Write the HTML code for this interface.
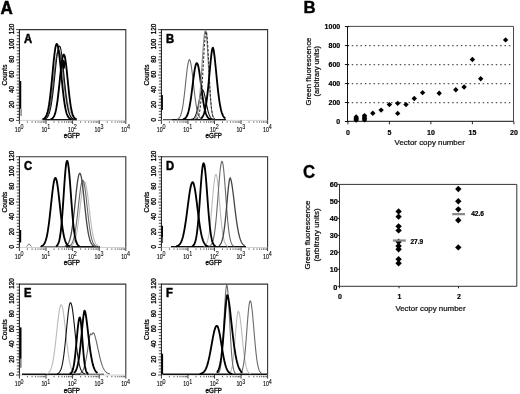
<!DOCTYPE html>
<html><head><meta charset="utf-8"><title>Figure</title>
<style>html,body{margin:0;padding:0;background:#fff;width:520px;height:394px;overflow:hidden}svg{display:block;filter:blur(0.35px)}</style>
</head><body>
<svg width="520" height="394" viewBox="0 0 520 394" font-family='"Liberation Sans", sans-serif'>
<rect width="520" height="394" fill="#fff"/>
<text transform="translate(0.4,13.7) scale(1,1.07)" font-size="17" font-weight="bold" stroke="#000" stroke-width="0.5">A</text>
<text transform="translate(303.5,12.9) scale(1.03,1.02)" font-size="16.3" font-weight="bold" stroke="#000" stroke-width="0.4">B</text>
<text transform="translate(302.9,177.9) scale(0.97,1.07)" font-size="17.3" font-weight="bold" stroke="#000" stroke-width="0.3">C</text>
<path d="M19.4,29.6 H125.8 V120.4" fill="none" stroke="#333" stroke-width="1.1"/>
<path d="M19.4,29.1 V120.4" fill="none" stroke="#111" stroke-width="1"/>
<path d="M16.00,120.40 H19.4" stroke="#222" stroke-width="0.8"/>
<path d="M16.80,117.37 H19.4" stroke="#222" stroke-width="0.8"/>
<path d="M16.80,114.35 H19.4" stroke="#222" stroke-width="0.8"/>
<path d="M16.80,111.32 H19.4" stroke="#222" stroke-width="0.8"/>
<path d="M16.80,108.29 H19.4" stroke="#222" stroke-width="0.8"/>
<path d="M16.00,105.27 H19.4" stroke="#222" stroke-width="0.8"/>
<path d="M16.80,102.24 H19.4" stroke="#222" stroke-width="0.8"/>
<path d="M16.80,99.21 H19.4" stroke="#222" stroke-width="0.8"/>
<path d="M16.80,96.19 H19.4" stroke="#222" stroke-width="0.8"/>
<path d="M16.80,93.16 H19.4" stroke="#222" stroke-width="0.8"/>
<path d="M16.00,90.13 H19.4" stroke="#222" stroke-width="0.8"/>
<path d="M16.80,87.11 H19.4" stroke="#222" stroke-width="0.8"/>
<path d="M16.80,84.08 H19.4" stroke="#222" stroke-width="0.8"/>
<path d="M16.80,81.05 H19.4" stroke="#222" stroke-width="0.8"/>
<path d="M16.80,78.03 H19.4" stroke="#222" stroke-width="0.8"/>
<path d="M16.00,75.00 H19.4" stroke="#222" stroke-width="0.8"/>
<path d="M16.80,71.97 H19.4" stroke="#222" stroke-width="0.8"/>
<path d="M16.80,68.95 H19.4" stroke="#222" stroke-width="0.8"/>
<path d="M16.80,65.92 H19.4" stroke="#222" stroke-width="0.8"/>
<path d="M16.80,62.89 H19.4" stroke="#222" stroke-width="0.8"/>
<path d="M16.00,59.87 H19.4" stroke="#222" stroke-width="0.8"/>
<path d="M16.80,56.84 H19.4" stroke="#222" stroke-width="0.8"/>
<path d="M16.80,53.81 H19.4" stroke="#222" stroke-width="0.8"/>
<path d="M16.80,50.79 H19.4" stroke="#222" stroke-width="0.8"/>
<path d="M16.80,47.76 H19.4" stroke="#222" stroke-width="0.8"/>
<path d="M16.00,44.73 H19.4" stroke="#222" stroke-width="0.8"/>
<path d="M16.80,41.71 H19.4" stroke="#222" stroke-width="0.8"/>
<path d="M16.80,38.68 H19.4" stroke="#222" stroke-width="0.8"/>
<path d="M16.80,35.65 H19.4" stroke="#222" stroke-width="0.8"/>
<path d="M16.80,32.63 H19.4" stroke="#222" stroke-width="0.8"/>
<path d="M16.00,29.60 H19.4" stroke="#222" stroke-width="0.8"/>
<path d="M19.4,120.4 H125.8" stroke="#bbb" stroke-width="0.7"/>
<path d="M27.41,121.30 v1.4" stroke="#333" stroke-width="0.8"/>
<path d="M32.09,121.30 v1.4" stroke="#333" stroke-width="0.8"/>
<path d="M35.41,121.30 v1.4" stroke="#333" stroke-width="0.8"/>
<path d="M37.99,121.30 v1.4" stroke="#333" stroke-width="0.8"/>
<path d="M40.10,121.30 v1.4" stroke="#333" stroke-width="0.8"/>
<path d="M41.88,121.30 v1.4" stroke="#333" stroke-width="0.8"/>
<path d="M43.42,121.30 v1.4" stroke="#333" stroke-width="0.8"/>
<path d="M44.78,121.30 v1.4" stroke="#333" stroke-width="0.8"/>
<path d="M54.01,121.30 v1.4" stroke="#333" stroke-width="0.8"/>
<path d="M58.69,121.30 v1.4" stroke="#333" stroke-width="0.8"/>
<path d="M62.01,121.30 v1.4" stroke="#333" stroke-width="0.8"/>
<path d="M64.59,121.30 v1.4" stroke="#333" stroke-width="0.8"/>
<path d="M66.70,121.30 v1.4" stroke="#333" stroke-width="0.8"/>
<path d="M68.48,121.30 v1.4" stroke="#333" stroke-width="0.8"/>
<path d="M70.02,121.30 v1.4" stroke="#333" stroke-width="0.8"/>
<path d="M71.38,121.30 v1.4" stroke="#333" stroke-width="0.8"/>
<path d="M80.61,121.30 v1.4" stroke="#333" stroke-width="0.8"/>
<path d="M85.29,121.30 v1.4" stroke="#333" stroke-width="0.8"/>
<path d="M88.61,121.30 v1.4" stroke="#333" stroke-width="0.8"/>
<path d="M91.19,121.30 v1.4" stroke="#333" stroke-width="0.8"/>
<path d="M93.30,121.30 v1.4" stroke="#333" stroke-width="0.8"/>
<path d="M95.08,121.30 v1.4" stroke="#333" stroke-width="0.8"/>
<path d="M96.62,121.30 v1.4" stroke="#333" stroke-width="0.8"/>
<path d="M97.98,121.30 v1.4" stroke="#333" stroke-width="0.8"/>
<path d="M107.21,121.30 v1.4" stroke="#333" stroke-width="0.8"/>
<path d="M111.89,121.30 v1.4" stroke="#333" stroke-width="0.8"/>
<path d="M115.21,121.30 v1.4" stroke="#333" stroke-width="0.8"/>
<path d="M117.79,121.30 v1.4" stroke="#333" stroke-width="0.8"/>
<path d="M119.90,121.30 v1.4" stroke="#333" stroke-width="0.8"/>
<path d="M121.68,121.30 v1.4" stroke="#333" stroke-width="0.8"/>
<path d="M123.22,121.30 v1.4" stroke="#333" stroke-width="0.8"/>
<path d="M124.58,121.30 v1.4" stroke="#333" stroke-width="0.8"/>
<path d="M19.40,120.4 v3.6" stroke="#222" stroke-width="0.9"/>
<path d="M46.00,120.4 v3.6" stroke="#222" stroke-width="0.9"/>
<path d="M72.60,120.4 v3.6" stroke="#222" stroke-width="0.9"/>
<path d="M99.20,120.4 v3.6" stroke="#222" stroke-width="0.9"/>
<path d="M125.80,120.4 v3.6" stroke="#222" stroke-width="0.9"/>
<text transform="translate(13.90,119.70) rotate(-90)" text-anchor="middle" font-size="6.3" fill="#000" stroke="#000" stroke-width="0.3">0</text>
<text transform="translate(13.90,104.57) rotate(-90)" text-anchor="middle" font-size="6.3" fill="#000" stroke="#000" stroke-width="0.3">20</text>
<text transform="translate(13.90,89.43) rotate(-90)" text-anchor="middle" font-size="6.3" fill="#000" stroke="#000" stroke-width="0.3">40</text>
<text transform="translate(13.90,74.30) rotate(-90)" text-anchor="middle" font-size="6.3" fill="#000" stroke="#000" stroke-width="0.3">60</text>
<text transform="translate(13.90,59.17) rotate(-90)" text-anchor="middle" font-size="6.3" fill="#000" stroke="#000" stroke-width="0.3">80</text>
<text transform="translate(13.90,44.03) rotate(-90)" text-anchor="middle" font-size="6.3" fill="#000" stroke="#000" stroke-width="0.3">100</text>
<text transform="translate(13.90,28.90) rotate(-90)" text-anchor="middle" font-size="6.3" fill="#000" stroke="#000" stroke-width="0.3">120</text>
<text transform="translate(6.70,75.00) rotate(-90)" text-anchor="middle" font-size="6.6" fill="#000" stroke="#000" stroke-width="0.25">Counts</text>
<text transform="translate(14.80,131.60) scale(0.82,1)" font-size="6.4" fill="#000" stroke="#000" stroke-width="0.12">10</text>
<text transform="translate(20.60,128.90) scale(0.85,1)" font-size="6.4" fill="#000" stroke="#000" stroke-width="0.08">0</text>
<text transform="translate(41.40,131.60) scale(0.82,1)" font-size="6.4" fill="#000" stroke="#000" stroke-width="0.12">10</text>
<text transform="translate(47.20,128.90) scale(0.85,1)" font-size="6.4" fill="#000" stroke="#000" stroke-width="0.08">1</text>
<text transform="translate(68.00,131.60) scale(0.82,1)" font-size="6.4" fill="#000" stroke="#000" stroke-width="0.12">10</text>
<text transform="translate(73.80,128.90) scale(0.85,1)" font-size="6.4" fill="#000" stroke="#000" stroke-width="0.08">2</text>
<text transform="translate(94.60,131.60) scale(0.82,1)" font-size="6.4" fill="#000" stroke="#000" stroke-width="0.12">10</text>
<text transform="translate(100.40,128.90) scale(0.85,1)" font-size="6.4" fill="#000" stroke="#000" stroke-width="0.08">3</text>
<text transform="translate(121.20,131.60) scale(0.82,1)" font-size="6.4" fill="#000" stroke="#000" stroke-width="0.12">10</text>
<text transform="translate(127.00,128.90) scale(0.85,1)" font-size="6.4" fill="#000" stroke="#000" stroke-width="0.08">4</text>
<text transform="translate(71.80,137.90) scale(0.97,1)" text-anchor="middle" font-size="6.4" fill="#000" stroke="#000" stroke-width="0.3">eGFP</text>
<text transform="translate(24.00,42.80) scale(0.88,1)" font-size="12.8" font-weight="bold" fill="#000" stroke="#000" stroke-width="0.5">A</text>
<path d="M20.5,81 V108.7" stroke="#000" stroke-width="1.5"/>
<path d="M21.1,108.7 V116" stroke="#000" stroke-width="0.7"/>
<path d="M42.5,119.60 H77" stroke="#111" stroke-width="1.3"/>
<polyline points="41.34,119.21 41.84,119.10 42.33,118.96 42.83,118.78 43.32,118.55 43.82,118.25 44.31,117.87 44.80,117.40 45.30,116.81 45.80,116.09 46.29,115.21 46.79,114.16 47.28,112.92 47.77,111.45 48.27,109.75 48.77,107.80 49.26,105.58 49.76,103.09 50.25,100.33 50.74,97.30 51.24,94.03 51.73,90.54 52.23,86.87 52.73,83.07 53.22,79.19 53.71,75.30 54.21,71.47 54.70,67.78 55.20,64.31 55.69,61.14 56.19,58.34 56.69,55.99 57.18,54.14 57.67,52.84 58.17,52.14 58.66,52.03 59.16,52.47 59.65,53.42 60.15,54.87 60.64,56.77 61.14,59.10 61.63,61.79 62.13,64.79 62.62,68.04 63.12,71.47 63.61,75.02 64.11,78.63 64.60,82.24 65.10,85.80 65.59,89.25 66.09,92.56 66.58,95.69 67.08,98.63 67.57,101.34 68.07,103.83 68.56,106.08 69.06,108.09 69.55,109.88 70.05,111.45 70.54,112.82 71.04,114.00 71.53,115.00 72.03,115.85 72.52,116.57 73.02,117.16 73.51,117.65 74.01,118.04 74.50,118.36 75.00,118.62 75.49,118.82 75.99,118.99 76.48,119.11 76.98,119.21" fill="none" stroke="#bbb" stroke-width="1.1"/>
<polyline points="43.32,119.20 43.81,119.08 44.30,118.91 44.80,118.68 45.29,118.38 45.78,117.98 46.27,117.47 46.77,116.81 47.26,115.99 47.75,114.97 48.24,113.71 48.74,112.19 49.23,110.38 49.72,108.25 50.21,105.78 50.71,102.96 51.20,99.78 51.69,96.27 52.18,92.43 52.68,88.33 53.17,84.00 53.66,79.54 54.15,75.04 54.64,70.58 55.14,66.30 55.63,62.30 56.12,58.69 56.61,55.60 57.11,53.12 57.60,51.32 58.09,50.27 58.58,50.01 59.08,50.50 59.57,51.70 60.06,53.58 60.55,56.08 61.05,59.12 61.54,62.62 62.03,66.47 62.52,70.58 63.02,74.85 63.51,79.17 64.00,83.45 64.49,87.62 64.98,91.60 65.48,95.34 65.97,98.79 66.46,101.94 66.95,104.77 67.45,107.27 67.94,109.45 68.43,111.33 68.92,112.92 69.42,114.27 69.91,115.38 70.40,116.29 70.89,117.02 71.39,117.61 71.88,118.07 72.37,118.43 72.86,118.71 73.36,118.92 73.85,119.08 74.34,119.20" fill="none" stroke="#6a6a6a" stroke-width="1.1"/>
<polyline points="44.32,119.18 44.81,119.05 45.31,118.87 45.80,118.63 46.30,118.30 46.80,117.88 47.29,117.33 47.78,116.63 48.28,115.75 48.77,114.65 49.27,113.30 49.77,111.67 50.26,109.73 50.76,107.44 51.25,104.78 51.74,101.75 52.24,98.35 52.73,94.58 53.23,90.47 53.73,86.08 54.22,81.46 54.72,76.71 55.21,71.92 55.70,67.20 56.20,62.68 56.70,58.47 57.19,54.71 57.69,51.50 58.18,48.96 58.67,47.17 59.17,46.19 59.66,46.05 60.16,46.82 60.66,48.49 61.15,50.99 61.64,54.24 62.14,58.11 62.63,62.48 63.13,67.20 63.62,72.14 64.12,77.15 64.61,82.10 65.11,86.90 65.61,91.43 66.10,95.64 66.59,99.47 67.09,102.90 67.58,105.91 68.08,108.52 68.57,110.74 69.07,112.60 69.56,114.13 70.06,115.37 70.55,116.37 71.05,117.16 71.55,117.77 72.04,118.23 72.53,118.59 73.03,118.85 73.52,119.04 74.02,119.18" fill="none" stroke="#111" stroke-width="1.1"/>
<polyline points="42.61,119.17 43.10,119.03 43.60,118.82 44.09,118.54 44.59,118.16 45.09,117.65 45.58,116.99 46.07,116.13 46.57,115.04 47.06,113.67 47.56,111.99 48.05,109.94 48.55,107.50 49.05,104.63 49.54,101.32 50.03,97.57 50.53,93.39 51.02,88.82 51.52,83.93 52.02,78.80 52.51,73.54 53.00,68.29 53.50,63.18 53.99,58.39 54.49,54.06 54.98,50.34 55.48,47.38 55.97,45.28 56.47,44.12 56.96,43.95 57.46,44.75 57.95,46.46 58.45,49.03 58.94,52.37 59.44,56.35 59.93,60.85 60.43,65.71 60.92,70.78 61.42,75.94 61.91,81.04 62.41,85.96 62.90,90.63 63.40,94.96 63.89,98.90 64.39,102.42 64.88,105.53 65.38,108.21 65.88,110.49 66.37,112.40 66.86,113.98 67.36,115.26 67.85,116.28 68.35,117.09 68.84,117.72 69.34,118.20 69.83,118.56 70.33,118.83 70.82,119.03 71.32,119.17" fill="none" stroke="#000" stroke-width="1.85" stroke-linejoin="round"/>
<polyline points="50.60,119.22 51.09,119.08 51.58,118.89 52.08,118.61 52.57,118.24 53.06,117.73 53.55,117.06 54.04,116.18 54.54,115.05 55.03,113.63 55.52,111.88 56.01,109.74 56.50,107.19 56.99,104.21 57.49,100.80 57.98,96.96 58.47,92.75 58.96,88.22 59.45,83.48 59.95,78.64 60.44,73.85 60.93,69.25 61.42,65.03 61.91,61.34 62.41,58.33 62.90,56.13 63.39,54.84 63.88,54.51 64.37,55.20 64.86,56.88 65.36,59.48 65.85,62.88 66.34,66.93 66.83,71.46 67.32,76.29 67.82,81.25 68.31,86.17 68.80,90.92 69.29,95.38 69.78,99.47 70.28,103.12 70.77,106.32 71.26,109.06 71.75,111.37 72.24,113.26 72.73,114.79 73.23,116.00 73.72,116.94 74.21,117.66 74.70,118.19 75.19,118.59 75.69,118.88 76.18,119.08 76.67,119.22" fill="none" stroke="#000" stroke-width="1.85" stroke-linejoin="round"/>
<ellipse cx="63.6" cy="64.5" rx="1.5" ry="4.8" fill="#000"/>
<path d="M161.4,29.6 H267.6 V120.4" fill="none" stroke="#333" stroke-width="1.1"/>
<path d="M161.4,29.1 V120.4" fill="none" stroke="#111" stroke-width="1"/>
<path d="M158.00,120.40 H161.4" stroke="#222" stroke-width="0.8"/>
<path d="M158.80,117.37 H161.4" stroke="#222" stroke-width="0.8"/>
<path d="M158.80,114.35 H161.4" stroke="#222" stroke-width="0.8"/>
<path d="M158.80,111.32 H161.4" stroke="#222" stroke-width="0.8"/>
<path d="M158.80,108.29 H161.4" stroke="#222" stroke-width="0.8"/>
<path d="M158.00,105.27 H161.4" stroke="#222" stroke-width="0.8"/>
<path d="M158.80,102.24 H161.4" stroke="#222" stroke-width="0.8"/>
<path d="M158.80,99.21 H161.4" stroke="#222" stroke-width="0.8"/>
<path d="M158.80,96.19 H161.4" stroke="#222" stroke-width="0.8"/>
<path d="M158.80,93.16 H161.4" stroke="#222" stroke-width="0.8"/>
<path d="M158.00,90.13 H161.4" stroke="#222" stroke-width="0.8"/>
<path d="M158.80,87.11 H161.4" stroke="#222" stroke-width="0.8"/>
<path d="M158.80,84.08 H161.4" stroke="#222" stroke-width="0.8"/>
<path d="M158.80,81.05 H161.4" stroke="#222" stroke-width="0.8"/>
<path d="M158.80,78.03 H161.4" stroke="#222" stroke-width="0.8"/>
<path d="M158.00,75.00 H161.4" stroke="#222" stroke-width="0.8"/>
<path d="M158.80,71.97 H161.4" stroke="#222" stroke-width="0.8"/>
<path d="M158.80,68.95 H161.4" stroke="#222" stroke-width="0.8"/>
<path d="M158.80,65.92 H161.4" stroke="#222" stroke-width="0.8"/>
<path d="M158.80,62.89 H161.4" stroke="#222" stroke-width="0.8"/>
<path d="M158.00,59.87 H161.4" stroke="#222" stroke-width="0.8"/>
<path d="M158.80,56.84 H161.4" stroke="#222" stroke-width="0.8"/>
<path d="M158.80,53.81 H161.4" stroke="#222" stroke-width="0.8"/>
<path d="M158.80,50.79 H161.4" stroke="#222" stroke-width="0.8"/>
<path d="M158.80,47.76 H161.4" stroke="#222" stroke-width="0.8"/>
<path d="M158.00,44.73 H161.4" stroke="#222" stroke-width="0.8"/>
<path d="M158.80,41.71 H161.4" stroke="#222" stroke-width="0.8"/>
<path d="M158.80,38.68 H161.4" stroke="#222" stroke-width="0.8"/>
<path d="M158.80,35.65 H161.4" stroke="#222" stroke-width="0.8"/>
<path d="M158.80,32.63 H161.4" stroke="#222" stroke-width="0.8"/>
<path d="M158.00,29.60 H161.4" stroke="#222" stroke-width="0.8"/>
<path d="M161.4,120.4 H267.6" stroke="#bbb" stroke-width="0.7"/>
<path d="M169.39,121.30 v1.4" stroke="#333" stroke-width="0.8"/>
<path d="M174.07,121.30 v1.4" stroke="#333" stroke-width="0.8"/>
<path d="M177.38,121.30 v1.4" stroke="#333" stroke-width="0.8"/>
<path d="M179.96,121.30 v1.4" stroke="#333" stroke-width="0.8"/>
<path d="M182.06,121.30 v1.4" stroke="#333" stroke-width="0.8"/>
<path d="M183.84,121.30 v1.4" stroke="#333" stroke-width="0.8"/>
<path d="M185.38,121.30 v1.4" stroke="#333" stroke-width="0.8"/>
<path d="M186.74,121.30 v1.4" stroke="#333" stroke-width="0.8"/>
<path d="M195.94,121.30 v1.4" stroke="#333" stroke-width="0.8"/>
<path d="M200.62,121.30 v1.4" stroke="#333" stroke-width="0.8"/>
<path d="M203.93,121.30 v1.4" stroke="#333" stroke-width="0.8"/>
<path d="M206.51,121.30 v1.4" stroke="#333" stroke-width="0.8"/>
<path d="M208.61,121.30 v1.4" stroke="#333" stroke-width="0.8"/>
<path d="M210.39,121.30 v1.4" stroke="#333" stroke-width="0.8"/>
<path d="M211.93,121.30 v1.4" stroke="#333" stroke-width="0.8"/>
<path d="M213.29,121.30 v1.4" stroke="#333" stroke-width="0.8"/>
<path d="M222.49,121.30 v1.4" stroke="#333" stroke-width="0.8"/>
<path d="M227.17,121.30 v1.4" stroke="#333" stroke-width="0.8"/>
<path d="M230.48,121.30 v1.4" stroke="#333" stroke-width="0.8"/>
<path d="M233.06,121.30 v1.4" stroke="#333" stroke-width="0.8"/>
<path d="M235.16,121.30 v1.4" stroke="#333" stroke-width="0.8"/>
<path d="M236.94,121.30 v1.4" stroke="#333" stroke-width="0.8"/>
<path d="M238.48,121.30 v1.4" stroke="#333" stroke-width="0.8"/>
<path d="M239.84,121.30 v1.4" stroke="#333" stroke-width="0.8"/>
<path d="M249.04,121.30 v1.4" stroke="#333" stroke-width="0.8"/>
<path d="M253.72,121.30 v1.4" stroke="#333" stroke-width="0.8"/>
<path d="M257.03,121.30 v1.4" stroke="#333" stroke-width="0.8"/>
<path d="M259.61,121.30 v1.4" stroke="#333" stroke-width="0.8"/>
<path d="M261.71,121.30 v1.4" stroke="#333" stroke-width="0.8"/>
<path d="M263.49,121.30 v1.4" stroke="#333" stroke-width="0.8"/>
<path d="M265.03,121.30 v1.4" stroke="#333" stroke-width="0.8"/>
<path d="M266.39,121.30 v1.4" stroke="#333" stroke-width="0.8"/>
<path d="M161.40,120.4 v3.6" stroke="#222" stroke-width="0.9"/>
<path d="M187.95,120.4 v3.6" stroke="#222" stroke-width="0.9"/>
<path d="M214.50,120.4 v3.6" stroke="#222" stroke-width="0.9"/>
<path d="M241.05,120.4 v3.6" stroke="#222" stroke-width="0.9"/>
<path d="M267.60,120.4 v3.6" stroke="#222" stroke-width="0.9"/>
<text transform="translate(155.90,119.70) rotate(-90)" text-anchor="middle" font-size="6.3" fill="#000" stroke="#000" stroke-width="0.3">0</text>
<text transform="translate(155.90,104.57) rotate(-90)" text-anchor="middle" font-size="6.3" fill="#000" stroke="#000" stroke-width="0.3">20</text>
<text transform="translate(155.90,89.43) rotate(-90)" text-anchor="middle" font-size="6.3" fill="#000" stroke="#000" stroke-width="0.3">40</text>
<text transform="translate(155.90,74.30) rotate(-90)" text-anchor="middle" font-size="6.3" fill="#000" stroke="#000" stroke-width="0.3">60</text>
<text transform="translate(155.90,59.17) rotate(-90)" text-anchor="middle" font-size="6.3" fill="#000" stroke="#000" stroke-width="0.3">80</text>
<text transform="translate(155.90,44.03) rotate(-90)" text-anchor="middle" font-size="6.3" fill="#000" stroke="#000" stroke-width="0.3">100</text>
<text transform="translate(155.90,28.90) rotate(-90)" text-anchor="middle" font-size="6.3" fill="#000" stroke="#000" stroke-width="0.3">120</text>
<text transform="translate(148.70,75.00) rotate(-90)" text-anchor="middle" font-size="6.6" fill="#000" stroke="#000" stroke-width="0.25">Counts</text>
<text transform="translate(156.80,131.60) scale(0.82,1)" font-size="6.4" fill="#000" stroke="#000" stroke-width="0.12">10</text>
<text transform="translate(162.60,128.90) scale(0.85,1)" font-size="6.4" fill="#000" stroke="#000" stroke-width="0.08">0</text>
<text transform="translate(183.35,131.60) scale(0.82,1)" font-size="6.4" fill="#000" stroke="#000" stroke-width="0.12">10</text>
<text transform="translate(189.15,128.90) scale(0.85,1)" font-size="6.4" fill="#000" stroke="#000" stroke-width="0.08">1</text>
<text transform="translate(209.90,131.60) scale(0.82,1)" font-size="6.4" fill="#000" stroke="#000" stroke-width="0.12">10</text>
<text transform="translate(215.70,128.90) scale(0.85,1)" font-size="6.4" fill="#000" stroke="#000" stroke-width="0.08">2</text>
<text transform="translate(236.45,131.60) scale(0.82,1)" font-size="6.4" fill="#000" stroke="#000" stroke-width="0.12">10</text>
<text transform="translate(242.25,128.90) scale(0.85,1)" font-size="6.4" fill="#000" stroke="#000" stroke-width="0.08">3</text>
<text transform="translate(263.00,131.60) scale(0.82,1)" font-size="6.4" fill="#000" stroke="#000" stroke-width="0.12">10</text>
<text transform="translate(268.80,128.90) scale(0.85,1)" font-size="6.4" fill="#000" stroke="#000" stroke-width="0.08">4</text>
<text transform="translate(213.70,137.90) scale(0.97,1)" text-anchor="middle" font-size="6.4" fill="#000" stroke="#000" stroke-width="0.3">eGFP</text>
<text transform="translate(166.00,42.80) scale(0.88,1)" font-size="12.8" font-weight="bold" fill="#000" stroke="#000" stroke-width="0.5">B</text>
<path d="M162.1,94.9 V110" stroke="#000" stroke-width="1.6"/>
<path d="M163,119.60 H172" stroke="#111" stroke-width="0.8"/>
<path d="M172,119.60 H226" stroke="#111" stroke-width="1.3"/>
<polyline points="176.86,119.24 177.36,119.11 177.85,118.91 178.34,118.63 178.84,118.24 179.34,117.71 179.83,116.99 180.33,116.05 180.82,114.83 181.31,113.28 181.81,111.36 182.31,109.04 182.80,106.27 183.30,103.05 183.79,99.39 184.28,95.33 184.78,90.94 185.28,86.32 185.77,81.61 186.27,76.95 186.76,72.52 187.25,68.51 187.75,65.08 188.25,62.40 188.74,60.60 189.24,59.76 189.73,59.90 190.22,60.96 190.72,62.87 191.22,65.55 191.71,68.88 192.21,72.74 192.70,76.95 193.19,81.37 193.69,85.85 194.19,90.26 194.68,94.48 195.18,98.41 195.67,102.00 196.16,105.19 196.66,107.98 197.16,110.37 197.65,112.37 198.15,114.02 198.64,115.35 199.13,116.41 199.63,117.23 200.12,117.86 200.62,118.33 201.12,118.68 201.61,118.93 202.10,119.11 202.60,119.24" fill="none" stroke="#6a6a6a" stroke-width="1.1"/>
<polyline points="190.95,119.37 191.44,119.30 191.93,119.19 192.42,119.03 192.92,118.81 193.41,118.49 193.90,118.06 194.39,117.49 194.88,116.74 195.37,115.79 195.86,114.61 196.36,113.18 196.85,111.49 197.34,109.55 197.83,107.38 198.32,105.03 198.81,102.56 199.31,100.05 199.80,97.61 200.29,95.34 200.78,93.36 201.27,91.76 201.76,90.65 202.25,90.07 202.75,90.07 203.24,90.65 203.73,91.76 204.22,93.36 204.71,95.34 205.20,97.61 205.69,100.05 206.19,102.56 206.68,105.03 207.17,107.38 207.66,109.55 208.15,111.49 208.64,113.18 209.14,114.61 209.63,115.79 210.12,116.74 210.61,117.49 211.10,118.06 211.59,118.49 212.08,118.81 212.58,119.03 213.07,119.19 213.56,119.30 214.05,119.37" fill="none" stroke="#111" stroke-width="1.1"/>
<polyline points="182.94,119.26 183.43,119.14 183.92,118.99 184.42,118.77 184.91,118.48 185.40,118.08 185.89,117.56 186.38,116.89 186.88,116.04 187.37,114.97 187.86,113.64 188.35,112.04 188.85,110.12 189.34,107.87 189.83,105.27 190.32,102.34 190.81,99.08 191.31,95.53 191.80,91.75 192.29,87.81 192.78,83.81 193.27,79.85 193.77,76.05 194.26,72.54 194.75,69.43 195.24,66.85 195.73,64.89 196.23,63.62 196.72,63.11 197.21,63.36 197.70,64.33 198.20,65.99 198.69,68.28 199.18,71.11 199.67,74.37 200.16,77.97 200.66,81.77 201.15,85.67 201.64,89.57 202.13,93.36 202.62,96.96 203.12,100.33 203.61,103.40 204.10,106.15 204.59,108.58 205.08,110.69 205.58,112.48 206.07,113.98 206.56,115.21 207.05,116.21 207.55,117.02 208.04,117.65 208.53,118.13 209.02,118.51 209.51,118.79 210.01,119.00 210.50,119.15 210.99,119.26" fill="none" stroke="#000" stroke-width="1.85" stroke-linejoin="round"/>
<polyline points="193.95,119.11 194.44,118.89 194.93,118.56 195.42,118.08 195.91,117.39 196.41,116.44 196.90,115.13 197.39,113.39 197.88,111.13 198.37,108.25 198.86,104.67 199.35,100.34 199.84,95.22 200.34,89.34 200.83,82.76 201.32,75.63 201.81,68.12 202.30,60.51 202.79,53.09 203.28,46.20 203.77,40.17 204.26,35.31 204.76,31.90 205.25,30.13 205.74,30.20 206.23,32.69 206.72,37.49 207.21,44.22 207.70,52.35 208.19,61.30 208.68,70.48 209.18,79.38 209.67,87.59 210.16,94.84 210.65,100.98 211.14,105.99 211.63,109.92 212.12,112.90 212.61,115.08 213.11,116.62 213.60,117.68 214.09,118.38 214.58,118.83 215.07,119.11" fill="none" stroke="#8a8a8a" stroke-width="1.1"/>
<polyline points="196.30,119.12 196.80,118.85 197.30,118.42 197.80,117.76 198.30,116.76 198.80,115.31 199.30,113.27 199.80,110.48 200.30,106.81 200.80,102.14 201.29,96.39 201.79,89.57 202.29,81.81 202.79,73.32 203.29,64.48 203.79,55.74 204.29,47.62 204.79,40.69 205.29,35.45 205.79,32.32 206.29,31.55 206.79,33.73 207.29,38.88 207.79,46.47 208.29,55.74 208.79,65.85 209.29,75.99 209.79,85.50 210.28,93.89 210.78,100.91 211.28,106.49 211.78,110.73 212.28,113.80 212.78,115.93 213.28,117.34 213.78,118.25 214.28,118.80 214.78,119.12" fill="none" stroke="#333" stroke-width="1.1" stroke-dasharray="2.5,1.6"/>
<polyline points="200.92,118.43 201.42,118.05 201.92,117.55 202.42,116.92 202.91,116.10 203.41,115.07 203.91,113.79 204.41,112.22 204.91,110.31 205.41,108.03 205.90,105.34 206.40,102.20 206.90,98.62 207.40,94.57 207.90,90.10 208.40,85.24 208.89,80.07 209.39,74.70 209.89,69.28 210.39,63.96 210.89,58.97 211.39,54.54 211.88,50.93 212.38,48.46 212.88,47.64 213.38,48.98 213.88,51.61 214.38,55.19 214.87,59.48 215.37,64.24 215.87,69.28 216.37,74.42 216.87,79.51 217.37,84.44 217.86,89.11 218.36,93.44 218.86,97.39 219.36,100.94 219.86,104.07 220.36,106.81 220.85,109.16 221.35,111.16 221.85,112.84 222.35,114.23 222.85,115.37 223.35,116.29 223.84,117.03 224.34,117.61 224.84,118.07 225.34,118.43" fill="none" stroke="#000" stroke-width="1.85" stroke-linejoin="round"/>
<path d="M19.4,156.7 H125.8 V247.5" fill="none" stroke="#333" stroke-width="1.1"/>
<path d="M19.4,156.2 V247.5" fill="none" stroke="#111" stroke-width="1"/>
<path d="M16.00,247.50 H19.4" stroke="#222" stroke-width="0.8"/>
<path d="M16.80,244.47 H19.4" stroke="#222" stroke-width="0.8"/>
<path d="M16.80,241.45 H19.4" stroke="#222" stroke-width="0.8"/>
<path d="M16.80,238.42 H19.4" stroke="#222" stroke-width="0.8"/>
<path d="M16.80,235.39 H19.4" stroke="#222" stroke-width="0.8"/>
<path d="M16.00,232.37 H19.4" stroke="#222" stroke-width="0.8"/>
<path d="M16.80,229.34 H19.4" stroke="#222" stroke-width="0.8"/>
<path d="M16.80,226.31 H19.4" stroke="#222" stroke-width="0.8"/>
<path d="M16.80,223.29 H19.4" stroke="#222" stroke-width="0.8"/>
<path d="M16.80,220.26 H19.4" stroke="#222" stroke-width="0.8"/>
<path d="M16.00,217.23 H19.4" stroke="#222" stroke-width="0.8"/>
<path d="M16.80,214.21 H19.4" stroke="#222" stroke-width="0.8"/>
<path d="M16.80,211.18 H19.4" stroke="#222" stroke-width="0.8"/>
<path d="M16.80,208.15 H19.4" stroke="#222" stroke-width="0.8"/>
<path d="M16.80,205.13 H19.4" stroke="#222" stroke-width="0.8"/>
<path d="M16.00,202.10 H19.4" stroke="#222" stroke-width="0.8"/>
<path d="M16.80,199.07 H19.4" stroke="#222" stroke-width="0.8"/>
<path d="M16.80,196.05 H19.4" stroke="#222" stroke-width="0.8"/>
<path d="M16.80,193.02 H19.4" stroke="#222" stroke-width="0.8"/>
<path d="M16.80,189.99 H19.4" stroke="#222" stroke-width="0.8"/>
<path d="M16.00,186.97 H19.4" stroke="#222" stroke-width="0.8"/>
<path d="M16.80,183.94 H19.4" stroke="#222" stroke-width="0.8"/>
<path d="M16.80,180.91 H19.4" stroke="#222" stroke-width="0.8"/>
<path d="M16.80,177.89 H19.4" stroke="#222" stroke-width="0.8"/>
<path d="M16.80,174.86 H19.4" stroke="#222" stroke-width="0.8"/>
<path d="M16.00,171.83 H19.4" stroke="#222" stroke-width="0.8"/>
<path d="M16.80,168.81 H19.4" stroke="#222" stroke-width="0.8"/>
<path d="M16.80,165.78 H19.4" stroke="#222" stroke-width="0.8"/>
<path d="M16.80,162.75 H19.4" stroke="#222" stroke-width="0.8"/>
<path d="M16.80,159.73 H19.4" stroke="#222" stroke-width="0.8"/>
<path d="M16.00,156.70 H19.4" stroke="#222" stroke-width="0.8"/>
<path d="M19.4,247.5 H125.8" stroke="#bbb" stroke-width="0.7"/>
<path d="M27.41,248.40 v1.4" stroke="#333" stroke-width="0.8"/>
<path d="M32.09,248.40 v1.4" stroke="#333" stroke-width="0.8"/>
<path d="M35.41,248.40 v1.4" stroke="#333" stroke-width="0.8"/>
<path d="M37.99,248.40 v1.4" stroke="#333" stroke-width="0.8"/>
<path d="M40.10,248.40 v1.4" stroke="#333" stroke-width="0.8"/>
<path d="M41.88,248.40 v1.4" stroke="#333" stroke-width="0.8"/>
<path d="M43.42,248.40 v1.4" stroke="#333" stroke-width="0.8"/>
<path d="M44.78,248.40 v1.4" stroke="#333" stroke-width="0.8"/>
<path d="M54.01,248.40 v1.4" stroke="#333" stroke-width="0.8"/>
<path d="M58.69,248.40 v1.4" stroke="#333" stroke-width="0.8"/>
<path d="M62.01,248.40 v1.4" stroke="#333" stroke-width="0.8"/>
<path d="M64.59,248.40 v1.4" stroke="#333" stroke-width="0.8"/>
<path d="M66.70,248.40 v1.4" stroke="#333" stroke-width="0.8"/>
<path d="M68.48,248.40 v1.4" stroke="#333" stroke-width="0.8"/>
<path d="M70.02,248.40 v1.4" stroke="#333" stroke-width="0.8"/>
<path d="M71.38,248.40 v1.4" stroke="#333" stroke-width="0.8"/>
<path d="M80.61,248.40 v1.4" stroke="#333" stroke-width="0.8"/>
<path d="M85.29,248.40 v1.4" stroke="#333" stroke-width="0.8"/>
<path d="M88.61,248.40 v1.4" stroke="#333" stroke-width="0.8"/>
<path d="M91.19,248.40 v1.4" stroke="#333" stroke-width="0.8"/>
<path d="M93.30,248.40 v1.4" stroke="#333" stroke-width="0.8"/>
<path d="M95.08,248.40 v1.4" stroke="#333" stroke-width="0.8"/>
<path d="M96.62,248.40 v1.4" stroke="#333" stroke-width="0.8"/>
<path d="M97.98,248.40 v1.4" stroke="#333" stroke-width="0.8"/>
<path d="M107.21,248.40 v1.4" stroke="#333" stroke-width="0.8"/>
<path d="M111.89,248.40 v1.4" stroke="#333" stroke-width="0.8"/>
<path d="M115.21,248.40 v1.4" stroke="#333" stroke-width="0.8"/>
<path d="M117.79,248.40 v1.4" stroke="#333" stroke-width="0.8"/>
<path d="M119.90,248.40 v1.4" stroke="#333" stroke-width="0.8"/>
<path d="M121.68,248.40 v1.4" stroke="#333" stroke-width="0.8"/>
<path d="M123.22,248.40 v1.4" stroke="#333" stroke-width="0.8"/>
<path d="M124.58,248.40 v1.4" stroke="#333" stroke-width="0.8"/>
<path d="M19.40,247.5 v3.6" stroke="#222" stroke-width="0.9"/>
<path d="M46.00,247.5 v3.6" stroke="#222" stroke-width="0.9"/>
<path d="M72.60,247.5 v3.6" stroke="#222" stroke-width="0.9"/>
<path d="M99.20,247.5 v3.6" stroke="#222" stroke-width="0.9"/>
<path d="M125.80,247.5 v3.6" stroke="#222" stroke-width="0.9"/>
<text transform="translate(13.90,246.80) rotate(-90)" text-anchor="middle" font-size="6.3" fill="#000" stroke="#000" stroke-width="0.3">0</text>
<text transform="translate(13.90,231.67) rotate(-90)" text-anchor="middle" font-size="6.3" fill="#000" stroke="#000" stroke-width="0.3">20</text>
<text transform="translate(13.90,216.53) rotate(-90)" text-anchor="middle" font-size="6.3" fill="#000" stroke="#000" stroke-width="0.3">40</text>
<text transform="translate(13.90,201.40) rotate(-90)" text-anchor="middle" font-size="6.3" fill="#000" stroke="#000" stroke-width="0.3">60</text>
<text transform="translate(13.90,186.27) rotate(-90)" text-anchor="middle" font-size="6.3" fill="#000" stroke="#000" stroke-width="0.3">80</text>
<text transform="translate(13.90,171.13) rotate(-90)" text-anchor="middle" font-size="6.3" fill="#000" stroke="#000" stroke-width="0.3">100</text>
<text transform="translate(13.90,156.00) rotate(-90)" text-anchor="middle" font-size="6.3" fill="#000" stroke="#000" stroke-width="0.3">120</text>
<text transform="translate(6.70,202.10) rotate(-90)" text-anchor="middle" font-size="6.6" fill="#000" stroke="#000" stroke-width="0.25">Counts</text>
<text transform="translate(14.80,258.70) scale(0.82,1)" font-size="6.4" fill="#000" stroke="#000" stroke-width="0.12">10</text>
<text transform="translate(20.60,256.00) scale(0.85,1)" font-size="6.4" fill="#000" stroke="#000" stroke-width="0.08">0</text>
<text transform="translate(41.40,258.70) scale(0.82,1)" font-size="6.4" fill="#000" stroke="#000" stroke-width="0.12">10</text>
<text transform="translate(47.20,256.00) scale(0.85,1)" font-size="6.4" fill="#000" stroke="#000" stroke-width="0.08">1</text>
<text transform="translate(68.00,258.70) scale(0.82,1)" font-size="6.4" fill="#000" stroke="#000" stroke-width="0.12">10</text>
<text transform="translate(73.80,256.00) scale(0.85,1)" font-size="6.4" fill="#000" stroke="#000" stroke-width="0.08">2</text>
<text transform="translate(94.60,258.70) scale(0.82,1)" font-size="6.4" fill="#000" stroke="#000" stroke-width="0.12">10</text>
<text transform="translate(100.40,256.00) scale(0.85,1)" font-size="6.4" fill="#000" stroke="#000" stroke-width="0.08">3</text>
<text transform="translate(121.20,258.70) scale(0.82,1)" font-size="6.4" fill="#000" stroke="#000" stroke-width="0.12">10</text>
<text transform="translate(127.00,256.00) scale(0.85,1)" font-size="6.4" fill="#000" stroke="#000" stroke-width="0.08">4</text>
<text transform="translate(71.80,265.00) scale(0.97,1)" text-anchor="middle" font-size="6.4" fill="#000" stroke="#000" stroke-width="0.3">eGFP</text>
<text transform="translate(24.00,169.90) scale(0.88,1)" font-size="12.8" font-weight="bold" fill="#000" stroke="#000" stroke-width="0.5">C</text>
<path d="M20.4,230 V242.5" stroke="#000" stroke-width="1.6"/>
<path d="M26.5,246.6 L29,243.8 L31.5,246.6" fill="none" stroke="#555" stroke-width="0.8"/>
<path d="M40,246.7 H66" stroke="#111" stroke-width="0.7"/>
<path d="M66,246.7 H100" stroke="#111" stroke-width="1.4"/>
<polyline points="69.75,246.32 70.25,246.20 70.74,246.04 71.23,245.82 71.73,245.52 72.22,245.13 72.72,244.62 73.22,243.97 73.71,243.14 74.20,242.12 74.70,240.86 75.19,239.33 75.69,237.50 76.19,235.36 76.68,232.87 77.17,230.04 77.67,226.86 78.16,223.36 78.66,219.57 79.16,215.53 79.65,211.32 80.14,207.03 80.64,202.74 81.13,198.57 81.63,194.64 82.12,191.07 82.62,187.96 83.11,185.42 83.61,183.54 84.10,182.39 84.60,182.00 85.09,182.39 85.59,183.54 86.08,185.42 86.58,187.96 87.07,191.07 87.57,194.64 88.06,198.57 88.56,202.74 89.05,207.03 89.55,211.32 90.04,215.53 90.54,219.57 91.03,223.36 91.53,226.86 92.02,230.04 92.52,232.87 93.01,235.36 93.51,237.50 94.00,239.33 94.50,240.86 94.99,242.12 95.49,243.14 95.98,243.97 96.48,244.62 96.97,245.13 97.47,245.52 97.96,245.82 98.46,246.04 98.95,246.20 99.45,246.32" fill="none" stroke="#bbb" stroke-width="1.1"/>
<polyline points="68.28,246.31 68.78,246.19 69.27,246.01 69.77,245.78 70.26,245.46 70.75,245.03 71.25,244.48 71.75,243.77 72.24,242.87 72.73,241.75 73.23,240.36 73.72,238.69 74.22,236.68 74.72,234.33 75.21,231.60 75.70,228.51 76.20,225.04 76.69,221.24 77.19,217.14 77.69,212.82 78.18,208.34 78.67,203.81 79.17,199.35 79.66,195.09 80.16,191.14 80.66,187.64 81.15,184.71 81.64,182.45 82.14,180.94 82.63,180.25 83.13,180.40 83.62,181.41 84.12,183.26 84.61,185.86 85.11,189.12 85.60,192.93 86.10,197.14 86.59,201.62 87.09,206.23 87.58,210.85 88.08,215.36 88.57,219.65 89.07,223.67 89.56,227.34 90.06,230.64 90.56,233.54 91.05,236.06 91.54,238.20 92.04,240.00 92.53,241.48 93.03,242.68 93.52,243.64 94.02,244.39 94.51,244.98 95.01,245.42 95.50,245.76 96.00,246.00 96.49,246.18 96.99,246.31" fill="none" stroke="#6a6a6a" stroke-width="1.1"/>
<polyline points="64.62,246.28 65.12,246.15 65.62,245.97 66.11,245.72 66.61,245.40 67.11,244.97 67.61,244.41 68.10,243.70 68.60,242.81 69.10,241.70 69.60,240.33 70.09,238.67 70.59,236.70 71.09,234.38 71.59,231.69 72.09,228.61 72.58,225.16 73.08,221.34 73.58,217.19 74.08,212.75 74.57,208.10 75.07,203.32 75.57,198.51 76.07,193.79 76.56,189.28 77.06,185.11 77.56,181.40 78.06,178.28 78.56,175.84 79.05,174.16 79.55,173.31 80.05,173.31 80.55,174.16 81.04,175.84 81.54,178.28 82.04,181.40 82.54,185.11 83.04,189.28 83.53,193.79 84.03,198.51 84.53,203.32 85.03,208.10 85.52,212.75 86.02,217.19 86.52,221.34 87.02,225.16 87.51,228.61 88.01,231.69 88.51,234.38 89.01,236.70 89.51,238.67 90.00,240.33 90.50,241.70 91.00,242.81 91.50,243.70 91.99,244.41 92.49,244.97 92.99,245.40 93.49,245.72 93.98,245.97 94.48,246.15 94.98,246.28" fill="none" stroke="#444" stroke-width="1.3"/>
<polyline points="40.88,246.30 41.37,246.17 41.86,245.99 42.36,245.75 42.85,245.43 43.34,244.99 43.83,244.43 44.33,243.71 44.82,242.79 45.31,241.65 45.80,240.24 46.29,238.53 46.79,236.49 47.28,234.09 47.77,231.32 48.26,228.17 48.76,224.64 49.25,220.76 49.74,216.57 50.23,212.14 50.72,207.54 51.22,202.89 51.71,198.28 52.20,193.86 52.69,189.75 53.19,186.08 53.68,182.97 54.17,180.53 54.66,178.86 55.15,178.01 55.65,178.01 56.14,178.86 56.63,180.53 57.12,182.97 57.61,186.08 58.11,189.75 58.60,193.86 59.09,198.28 59.58,202.89 60.08,207.54 60.57,212.14 61.06,216.57 61.55,220.76 62.04,224.64 62.54,228.17 63.03,231.32 63.52,234.09 64.01,236.49 64.51,238.53 65.00,240.24 65.49,241.65 65.98,242.79 66.47,243.71 66.97,244.43 67.46,244.99 67.95,245.43 68.44,245.75 68.94,245.99 69.43,246.17 69.92,246.30" fill="none" stroke="#000" stroke-width="1.85" stroke-linejoin="round"/>
<polyline points="55.88,246.23 56.37,246.01 56.87,245.67 57.36,245.18 57.86,244.46 58.35,243.46 58.85,242.08 59.34,240.24 59.84,237.82 60.33,234.75 60.83,230.93 61.32,226.32 61.82,220.91 62.31,214.73 62.81,207.89 63.30,200.58 63.80,193.03 64.29,185.55 64.79,178.48 65.28,172.19 65.78,167.03 66.27,163.29 66.77,161.20 67.26,160.88 67.76,162.08 68.25,164.67 68.75,168.52 69.24,173.44 69.74,179.20 70.23,185.55 70.73,192.23 71.22,199.00 71.72,205.63 72.21,211.92 72.71,217.75 73.20,223.00 73.70,227.61 74.19,231.59 74.69,234.93 75.18,237.68 75.68,239.89 76.17,241.65 76.67,243.00 77.16,244.03 77.66,244.79 78.15,245.35 78.65,245.75 79.14,246.04 79.64,246.23" fill="none" stroke="#000" stroke-width="1.85" stroke-linejoin="round"/>
<path d="M161.4,156.7 H267.6 V247.5" fill="none" stroke="#333" stroke-width="1.1"/>
<path d="M161.4,156.2 V247.5" fill="none" stroke="#111" stroke-width="1"/>
<path d="M158.00,247.50 H161.4" stroke="#222" stroke-width="0.8"/>
<path d="M158.80,244.47 H161.4" stroke="#222" stroke-width="0.8"/>
<path d="M158.80,241.45 H161.4" stroke="#222" stroke-width="0.8"/>
<path d="M158.80,238.42 H161.4" stroke="#222" stroke-width="0.8"/>
<path d="M158.80,235.39 H161.4" stroke="#222" stroke-width="0.8"/>
<path d="M158.00,232.37 H161.4" stroke="#222" stroke-width="0.8"/>
<path d="M158.80,229.34 H161.4" stroke="#222" stroke-width="0.8"/>
<path d="M158.80,226.31 H161.4" stroke="#222" stroke-width="0.8"/>
<path d="M158.80,223.29 H161.4" stroke="#222" stroke-width="0.8"/>
<path d="M158.80,220.26 H161.4" stroke="#222" stroke-width="0.8"/>
<path d="M158.00,217.23 H161.4" stroke="#222" stroke-width="0.8"/>
<path d="M158.80,214.21 H161.4" stroke="#222" stroke-width="0.8"/>
<path d="M158.80,211.18 H161.4" stroke="#222" stroke-width="0.8"/>
<path d="M158.80,208.15 H161.4" stroke="#222" stroke-width="0.8"/>
<path d="M158.80,205.13 H161.4" stroke="#222" stroke-width="0.8"/>
<path d="M158.00,202.10 H161.4" stroke="#222" stroke-width="0.8"/>
<path d="M158.80,199.07 H161.4" stroke="#222" stroke-width="0.8"/>
<path d="M158.80,196.05 H161.4" stroke="#222" stroke-width="0.8"/>
<path d="M158.80,193.02 H161.4" stroke="#222" stroke-width="0.8"/>
<path d="M158.80,189.99 H161.4" stroke="#222" stroke-width="0.8"/>
<path d="M158.00,186.97 H161.4" stroke="#222" stroke-width="0.8"/>
<path d="M158.80,183.94 H161.4" stroke="#222" stroke-width="0.8"/>
<path d="M158.80,180.91 H161.4" stroke="#222" stroke-width="0.8"/>
<path d="M158.80,177.89 H161.4" stroke="#222" stroke-width="0.8"/>
<path d="M158.80,174.86 H161.4" stroke="#222" stroke-width="0.8"/>
<path d="M158.00,171.83 H161.4" stroke="#222" stroke-width="0.8"/>
<path d="M158.80,168.81 H161.4" stroke="#222" stroke-width="0.8"/>
<path d="M158.80,165.78 H161.4" stroke="#222" stroke-width="0.8"/>
<path d="M158.80,162.75 H161.4" stroke="#222" stroke-width="0.8"/>
<path d="M158.80,159.73 H161.4" stroke="#222" stroke-width="0.8"/>
<path d="M158.00,156.70 H161.4" stroke="#222" stroke-width="0.8"/>
<path d="M161.4,247.5 H267.6" stroke="#bbb" stroke-width="0.7"/>
<path d="M169.39,248.40 v1.4" stroke="#333" stroke-width="0.8"/>
<path d="M174.07,248.40 v1.4" stroke="#333" stroke-width="0.8"/>
<path d="M177.38,248.40 v1.4" stroke="#333" stroke-width="0.8"/>
<path d="M179.96,248.40 v1.4" stroke="#333" stroke-width="0.8"/>
<path d="M182.06,248.40 v1.4" stroke="#333" stroke-width="0.8"/>
<path d="M183.84,248.40 v1.4" stroke="#333" stroke-width="0.8"/>
<path d="M185.38,248.40 v1.4" stroke="#333" stroke-width="0.8"/>
<path d="M186.74,248.40 v1.4" stroke="#333" stroke-width="0.8"/>
<path d="M195.94,248.40 v1.4" stroke="#333" stroke-width="0.8"/>
<path d="M200.62,248.40 v1.4" stroke="#333" stroke-width="0.8"/>
<path d="M203.93,248.40 v1.4" stroke="#333" stroke-width="0.8"/>
<path d="M206.51,248.40 v1.4" stroke="#333" stroke-width="0.8"/>
<path d="M208.61,248.40 v1.4" stroke="#333" stroke-width="0.8"/>
<path d="M210.39,248.40 v1.4" stroke="#333" stroke-width="0.8"/>
<path d="M211.93,248.40 v1.4" stroke="#333" stroke-width="0.8"/>
<path d="M213.29,248.40 v1.4" stroke="#333" stroke-width="0.8"/>
<path d="M222.49,248.40 v1.4" stroke="#333" stroke-width="0.8"/>
<path d="M227.17,248.40 v1.4" stroke="#333" stroke-width="0.8"/>
<path d="M230.48,248.40 v1.4" stroke="#333" stroke-width="0.8"/>
<path d="M233.06,248.40 v1.4" stroke="#333" stroke-width="0.8"/>
<path d="M235.16,248.40 v1.4" stroke="#333" stroke-width="0.8"/>
<path d="M236.94,248.40 v1.4" stroke="#333" stroke-width="0.8"/>
<path d="M238.48,248.40 v1.4" stroke="#333" stroke-width="0.8"/>
<path d="M239.84,248.40 v1.4" stroke="#333" stroke-width="0.8"/>
<path d="M249.04,248.40 v1.4" stroke="#333" stroke-width="0.8"/>
<path d="M253.72,248.40 v1.4" stroke="#333" stroke-width="0.8"/>
<path d="M257.03,248.40 v1.4" stroke="#333" stroke-width="0.8"/>
<path d="M259.61,248.40 v1.4" stroke="#333" stroke-width="0.8"/>
<path d="M261.71,248.40 v1.4" stroke="#333" stroke-width="0.8"/>
<path d="M263.49,248.40 v1.4" stroke="#333" stroke-width="0.8"/>
<path d="M265.03,248.40 v1.4" stroke="#333" stroke-width="0.8"/>
<path d="M266.39,248.40 v1.4" stroke="#333" stroke-width="0.8"/>
<path d="M161.40,247.5 v3.6" stroke="#222" stroke-width="0.9"/>
<path d="M187.95,247.5 v3.6" stroke="#222" stroke-width="0.9"/>
<path d="M214.50,247.5 v3.6" stroke="#222" stroke-width="0.9"/>
<path d="M241.05,247.5 v3.6" stroke="#222" stroke-width="0.9"/>
<path d="M267.60,247.5 v3.6" stroke="#222" stroke-width="0.9"/>
<text transform="translate(155.90,246.80) rotate(-90)" text-anchor="middle" font-size="6.3" fill="#000" stroke="#000" stroke-width="0.3">0</text>
<text transform="translate(155.90,231.67) rotate(-90)" text-anchor="middle" font-size="6.3" fill="#000" stroke="#000" stroke-width="0.3">20</text>
<text transform="translate(155.90,216.53) rotate(-90)" text-anchor="middle" font-size="6.3" fill="#000" stroke="#000" stroke-width="0.3">40</text>
<text transform="translate(155.90,201.40) rotate(-90)" text-anchor="middle" font-size="6.3" fill="#000" stroke="#000" stroke-width="0.3">60</text>
<text transform="translate(155.90,186.27) rotate(-90)" text-anchor="middle" font-size="6.3" fill="#000" stroke="#000" stroke-width="0.3">80</text>
<text transform="translate(155.90,171.13) rotate(-90)" text-anchor="middle" font-size="6.3" fill="#000" stroke="#000" stroke-width="0.3">100</text>
<text transform="translate(155.90,156.00) rotate(-90)" text-anchor="middle" font-size="6.3" fill="#000" stroke="#000" stroke-width="0.3">120</text>
<text transform="translate(148.70,202.10) rotate(-90)" text-anchor="middle" font-size="6.6" fill="#000" stroke="#000" stroke-width="0.25">Counts</text>
<text transform="translate(156.80,258.70) scale(0.82,1)" font-size="6.4" fill="#000" stroke="#000" stroke-width="0.12">10</text>
<text transform="translate(162.60,256.00) scale(0.85,1)" font-size="6.4" fill="#000" stroke="#000" stroke-width="0.08">0</text>
<text transform="translate(183.35,258.70) scale(0.82,1)" font-size="6.4" fill="#000" stroke="#000" stroke-width="0.12">10</text>
<text transform="translate(189.15,256.00) scale(0.85,1)" font-size="6.4" fill="#000" stroke="#000" stroke-width="0.08">1</text>
<text transform="translate(209.90,258.70) scale(0.82,1)" font-size="6.4" fill="#000" stroke="#000" stroke-width="0.12">10</text>
<text transform="translate(215.70,256.00) scale(0.85,1)" font-size="6.4" fill="#000" stroke="#000" stroke-width="0.08">2</text>
<text transform="translate(236.45,258.70) scale(0.82,1)" font-size="6.4" fill="#000" stroke="#000" stroke-width="0.12">10</text>
<text transform="translate(242.25,256.00) scale(0.85,1)" font-size="6.4" fill="#000" stroke="#000" stroke-width="0.08">3</text>
<text transform="translate(263.00,258.70) scale(0.82,1)" font-size="6.4" fill="#000" stroke="#000" stroke-width="0.12">10</text>
<text transform="translate(268.80,256.00) scale(0.85,1)" font-size="6.4" fill="#000" stroke="#000" stroke-width="0.08">4</text>
<text transform="translate(213.70,265.00) scale(0.97,1)" text-anchor="middle" font-size="6.4" fill="#000" stroke="#000" stroke-width="0.3">eGFP</text>
<text transform="translate(166.00,169.90) scale(0.88,1)" font-size="12.8" font-weight="bold" fill="#000" stroke="#000" stroke-width="0.5">D</text>
<path d="M162.2,225.8 V237.5" stroke="#000" stroke-width="1.6"/>
<path d="M162.6,237.5 V243" stroke="#000" stroke-width="0.7"/>
<path d="M171,246.7 H246" stroke="#111" stroke-width="1.3"/>
<polyline points="203.69,246.29 204.19,246.12 204.69,245.87 205.19,245.51 205.68,245.01 206.18,244.31 206.68,243.37 207.18,242.12 207.68,240.50 208.18,238.44 208.67,235.89 209.17,232.80 209.67,229.13 210.17,224.88 210.67,220.08 211.17,214.80 211.66,209.16 212.16,203.32 212.66,197.45 213.16,191.80 213.66,186.60 214.16,182.08 214.65,178.47 215.15,175.96 215.65,174.66 216.15,174.66 216.65,175.96 217.15,178.47 217.64,182.08 218.14,186.60 218.64,191.80 219.14,197.45 219.64,203.32 220.14,209.16 220.63,214.80 221.13,220.08 221.63,224.88 222.13,229.13 222.63,232.80 223.13,235.89 223.62,238.44 224.12,240.50 224.62,242.12 225.12,243.37 225.62,244.31 226.12,245.01 226.61,245.51 227.11,245.87 227.61,246.12 228.11,246.29" fill="none" stroke="#bbb" stroke-width="1.1"/>
<polyline points="209.13,246.23 209.62,246.05 210.11,245.78 210.61,245.41 211.10,244.89 211.59,244.18 212.08,243.24 212.57,242.01 213.06,240.42 213.56,238.42 214.05,235.93 214.54,232.91 215.03,229.32 215.52,225.12 216.01,220.33 216.51,214.97 217.00,209.12 217.49,202.89 217.98,196.43 218.47,189.92 218.97,183.58 219.46,177.64 219.95,172.32 220.44,167.85 220.93,164.44 221.42,162.22 221.92,161.32 222.41,161.82 222.90,163.78 223.39,167.12 223.88,171.66 224.37,177.18 224.87,183.41 225.36,190.10 225.85,196.96 226.34,203.75 226.83,210.26 227.33,216.32 227.82,221.81 228.31,226.66 228.80,230.85 229.29,234.37 229.78,237.27 230.28,239.61 230.77,241.45 231.26,242.88 231.75,243.95 232.24,244.75 232.73,245.33 233.23,245.75 233.72,246.03 234.21,246.23" fill="none" stroke="#6a6a6a" stroke-width="1.1"/>
<polyline points="218.88,245.78 219.37,245.45 219.86,245.00 220.36,244.40 220.85,243.61 221.34,242.59 221.83,241.29 222.32,239.66 222.82,237.65 223.31,235.21 223.80,232.31 224.29,228.90 224.78,225.00 225.27,220.60 225.77,215.76 226.26,210.56 226.75,205.12 227.24,199.59 227.73,194.18 228.23,189.12 228.72,184.67 229.21,181.10 229.70,178.74 230.19,178.03 230.69,178.90 231.18,180.65 231.67,183.12 232.16,186.16 232.65,189.66 233.14,193.48 233.64,197.52 234.13,201.67 234.62,205.85 235.11,209.96 235.60,213.95 236.10,217.75 236.59,221.32 237.08,224.63 237.57,227.66 238.06,230.40 238.56,232.86 239.05,235.03 239.54,236.94 240.03,238.59 240.52,240.01 241.01,241.22 241.51,242.24 242.00,243.09 242.49,243.80 242.98,244.38 243.47,244.85 243.97,245.23 244.46,245.54 244.95,245.78" fill="none" stroke="#444" stroke-width="1.3"/>
<polyline points="176.10,246.32 176.60,246.22 177.10,246.07 177.59,245.89 178.09,245.64 178.59,245.33 179.09,244.93 179.58,244.43 180.08,243.80 180.58,243.02 181.08,242.08 181.57,240.94 182.07,239.59 182.57,238.00 183.07,236.15 183.56,234.02 184.06,231.62 184.56,228.93 185.06,225.97 185.55,222.75 186.05,219.29 186.55,215.64 187.05,211.85 187.54,207.98 188.04,204.10 188.54,200.30 189.04,196.65 189.53,193.24 190.03,190.16 190.53,187.50 191.03,185.31 191.52,183.67 192.02,182.63 192.52,182.21 193.02,182.44 193.51,183.36 194.01,184.92 194.51,187.10 195.01,189.81 195.50,192.97 196.00,196.50 196.50,200.30 197.00,204.27 197.49,208.31 197.99,212.33 198.49,216.26 198.99,220.03 199.48,223.57 199.98,226.86 200.48,229.86 200.98,232.56 201.47,234.94 201.97,237.03 202.47,238.82 202.97,240.35 203.46,241.63 203.96,242.69 204.46,243.56 204.96,244.26 205.45,244.82 205.95,245.26 206.45,245.60 206.95,245.86 207.44,246.06 207.94,246.21 208.44,246.32" fill="none" stroke="#000" stroke-width="1.85" stroke-linejoin="round"/>
<polyline points="192.05,246.24 192.54,246.03 193.04,245.72 193.53,245.27 194.03,244.62 194.52,243.71 195.02,242.47 195.51,240.81 196.01,238.66 196.50,235.91 197.00,232.51 197.49,228.38 197.99,223.52 198.48,217.93 198.98,211.70 199.47,204.96 199.97,197.89 200.46,190.76 200.96,183.85 201.45,177.48 201.95,171.97 202.44,167.62 202.94,164.67 203.44,163.29 203.93,163.53 204.42,165.25 204.92,168.34 205.41,172.65 205.91,177.97 206.41,184.03 206.90,190.57 207.39,197.31 207.89,204.02 208.38,210.46 208.88,216.47 209.38,221.93 209.87,226.76 210.37,230.92 210.86,234.43 211.35,237.33 211.85,239.66 212.34,241.49 212.84,242.91 213.34,243.98 213.83,244.78 214.32,245.35 214.82,245.76 215.31,246.05 215.81,246.24" fill="none" stroke="#000" stroke-width="1.85" stroke-linejoin="round"/>
<path d="M19.4,284.1 H125.8 V375.0" fill="none" stroke="#333" stroke-width="1.1"/>
<path d="M19.4,283.6 V375.0" fill="none" stroke="#111" stroke-width="1"/>
<path d="M16.00,375.00 H19.4" stroke="#222" stroke-width="0.8"/>
<path d="M16.80,371.97 H19.4" stroke="#222" stroke-width="0.8"/>
<path d="M16.80,368.94 H19.4" stroke="#222" stroke-width="0.8"/>
<path d="M16.80,365.91 H19.4" stroke="#222" stroke-width="0.8"/>
<path d="M16.80,362.88 H19.4" stroke="#222" stroke-width="0.8"/>
<path d="M16.00,359.85 H19.4" stroke="#222" stroke-width="0.8"/>
<path d="M16.80,356.82 H19.4" stroke="#222" stroke-width="0.8"/>
<path d="M16.80,353.79 H19.4" stroke="#222" stroke-width="0.8"/>
<path d="M16.80,350.76 H19.4" stroke="#222" stroke-width="0.8"/>
<path d="M16.80,347.73 H19.4" stroke="#222" stroke-width="0.8"/>
<path d="M16.00,344.70 H19.4" stroke="#222" stroke-width="0.8"/>
<path d="M16.80,341.67 H19.4" stroke="#222" stroke-width="0.8"/>
<path d="M16.80,338.64 H19.4" stroke="#222" stroke-width="0.8"/>
<path d="M16.80,335.61 H19.4" stroke="#222" stroke-width="0.8"/>
<path d="M16.80,332.58 H19.4" stroke="#222" stroke-width="0.8"/>
<path d="M16.00,329.55 H19.4" stroke="#222" stroke-width="0.8"/>
<path d="M16.80,326.52 H19.4" stroke="#222" stroke-width="0.8"/>
<path d="M16.80,323.49 H19.4" stroke="#222" stroke-width="0.8"/>
<path d="M16.80,320.46 H19.4" stroke="#222" stroke-width="0.8"/>
<path d="M16.80,317.43 H19.4" stroke="#222" stroke-width="0.8"/>
<path d="M16.00,314.40 H19.4" stroke="#222" stroke-width="0.8"/>
<path d="M16.80,311.37 H19.4" stroke="#222" stroke-width="0.8"/>
<path d="M16.80,308.34 H19.4" stroke="#222" stroke-width="0.8"/>
<path d="M16.80,305.31 H19.4" stroke="#222" stroke-width="0.8"/>
<path d="M16.80,302.28 H19.4" stroke="#222" stroke-width="0.8"/>
<path d="M16.00,299.25 H19.4" stroke="#222" stroke-width="0.8"/>
<path d="M16.80,296.22 H19.4" stroke="#222" stroke-width="0.8"/>
<path d="M16.80,293.19 H19.4" stroke="#222" stroke-width="0.8"/>
<path d="M16.80,290.16 H19.4" stroke="#222" stroke-width="0.8"/>
<path d="M16.80,287.13 H19.4" stroke="#222" stroke-width="0.8"/>
<path d="M16.00,284.10 H19.4" stroke="#222" stroke-width="0.8"/>
<path d="M19.4,375.0 H125.8" stroke="#bbb" stroke-width="0.7"/>
<path d="M27.41,375.90 v1.4" stroke="#333" stroke-width="0.8"/>
<path d="M32.09,375.90 v1.4" stroke="#333" stroke-width="0.8"/>
<path d="M35.41,375.90 v1.4" stroke="#333" stroke-width="0.8"/>
<path d="M37.99,375.90 v1.4" stroke="#333" stroke-width="0.8"/>
<path d="M40.10,375.90 v1.4" stroke="#333" stroke-width="0.8"/>
<path d="M41.88,375.90 v1.4" stroke="#333" stroke-width="0.8"/>
<path d="M43.42,375.90 v1.4" stroke="#333" stroke-width="0.8"/>
<path d="M44.78,375.90 v1.4" stroke="#333" stroke-width="0.8"/>
<path d="M54.01,375.90 v1.4" stroke="#333" stroke-width="0.8"/>
<path d="M58.69,375.90 v1.4" stroke="#333" stroke-width="0.8"/>
<path d="M62.01,375.90 v1.4" stroke="#333" stroke-width="0.8"/>
<path d="M64.59,375.90 v1.4" stroke="#333" stroke-width="0.8"/>
<path d="M66.70,375.90 v1.4" stroke="#333" stroke-width="0.8"/>
<path d="M68.48,375.90 v1.4" stroke="#333" stroke-width="0.8"/>
<path d="M70.02,375.90 v1.4" stroke="#333" stroke-width="0.8"/>
<path d="M71.38,375.90 v1.4" stroke="#333" stroke-width="0.8"/>
<path d="M80.61,375.90 v1.4" stroke="#333" stroke-width="0.8"/>
<path d="M85.29,375.90 v1.4" stroke="#333" stroke-width="0.8"/>
<path d="M88.61,375.90 v1.4" stroke="#333" stroke-width="0.8"/>
<path d="M91.19,375.90 v1.4" stroke="#333" stroke-width="0.8"/>
<path d="M93.30,375.90 v1.4" stroke="#333" stroke-width="0.8"/>
<path d="M95.08,375.90 v1.4" stroke="#333" stroke-width="0.8"/>
<path d="M96.62,375.90 v1.4" stroke="#333" stroke-width="0.8"/>
<path d="M97.98,375.90 v1.4" stroke="#333" stroke-width="0.8"/>
<path d="M107.21,375.90 v1.4" stroke="#333" stroke-width="0.8"/>
<path d="M111.89,375.90 v1.4" stroke="#333" stroke-width="0.8"/>
<path d="M115.21,375.90 v1.4" stroke="#333" stroke-width="0.8"/>
<path d="M117.79,375.90 v1.4" stroke="#333" stroke-width="0.8"/>
<path d="M119.90,375.90 v1.4" stroke="#333" stroke-width="0.8"/>
<path d="M121.68,375.90 v1.4" stroke="#333" stroke-width="0.8"/>
<path d="M123.22,375.90 v1.4" stroke="#333" stroke-width="0.8"/>
<path d="M124.58,375.90 v1.4" stroke="#333" stroke-width="0.8"/>
<path d="M19.40,375.0 v3.6" stroke="#222" stroke-width="0.9"/>
<path d="M46.00,375.0 v3.6" stroke="#222" stroke-width="0.9"/>
<path d="M72.60,375.0 v3.6" stroke="#222" stroke-width="0.9"/>
<path d="M99.20,375.0 v3.6" stroke="#222" stroke-width="0.9"/>
<path d="M125.80,375.0 v3.6" stroke="#222" stroke-width="0.9"/>
<text transform="translate(13.90,374.30) rotate(-90)" text-anchor="middle" font-size="6.3" fill="#000" stroke="#000" stroke-width="0.3">0</text>
<text transform="translate(13.90,359.15) rotate(-90)" text-anchor="middle" font-size="6.3" fill="#000" stroke="#000" stroke-width="0.3">20</text>
<text transform="translate(13.90,344.00) rotate(-90)" text-anchor="middle" font-size="6.3" fill="#000" stroke="#000" stroke-width="0.3">40</text>
<text transform="translate(13.90,328.85) rotate(-90)" text-anchor="middle" font-size="6.3" fill="#000" stroke="#000" stroke-width="0.3">60</text>
<text transform="translate(13.90,313.70) rotate(-90)" text-anchor="middle" font-size="6.3" fill="#000" stroke="#000" stroke-width="0.3">80</text>
<text transform="translate(13.90,298.55) rotate(-90)" text-anchor="middle" font-size="6.3" fill="#000" stroke="#000" stroke-width="0.3">100</text>
<text transform="translate(13.90,283.40) rotate(-90)" text-anchor="middle" font-size="6.3" fill="#000" stroke="#000" stroke-width="0.3">120</text>
<text transform="translate(6.70,329.55) rotate(-90)" text-anchor="middle" font-size="6.6" fill="#000" stroke="#000" stroke-width="0.25">Counts</text>
<text transform="translate(14.80,386.20) scale(0.82,1)" font-size="6.4" fill="#000" stroke="#000" stroke-width="0.12">10</text>
<text transform="translate(20.60,383.50) scale(0.85,1)" font-size="6.4" fill="#000" stroke="#000" stroke-width="0.08">0</text>
<text transform="translate(41.40,386.20) scale(0.82,1)" font-size="6.4" fill="#000" stroke="#000" stroke-width="0.12">10</text>
<text transform="translate(47.20,383.50) scale(0.85,1)" font-size="6.4" fill="#000" stroke="#000" stroke-width="0.08">1</text>
<text transform="translate(68.00,386.20) scale(0.82,1)" font-size="6.4" fill="#000" stroke="#000" stroke-width="0.12">10</text>
<text transform="translate(73.80,383.50) scale(0.85,1)" font-size="6.4" fill="#000" stroke="#000" stroke-width="0.08">2</text>
<text transform="translate(94.60,386.20) scale(0.82,1)" font-size="6.4" fill="#000" stroke="#000" stroke-width="0.12">10</text>
<text transform="translate(100.40,383.50) scale(0.85,1)" font-size="6.4" fill="#000" stroke="#000" stroke-width="0.08">3</text>
<text transform="translate(121.20,386.20) scale(0.82,1)" font-size="6.4" fill="#000" stroke="#000" stroke-width="0.12">10</text>
<text transform="translate(127.00,383.50) scale(0.85,1)" font-size="6.4" fill="#000" stroke="#000" stroke-width="0.08">4</text>
<text transform="translate(71.80,392.50) scale(0.97,1)" text-anchor="middle" font-size="6.4" fill="#000" stroke="#000" stroke-width="0.3">eGFP</text>
<text transform="translate(24.00,297.30) scale(0.88,1)" font-size="12.8" font-weight="bold" fill="#000" stroke="#000" stroke-width="0.5">E</text>
<path d="M20.6,327.4 V358.7" stroke="#000" stroke-width="1.8"/>
<path d="M20.9,358.7 V367.8" stroke="#000" stroke-width="0.8"/>
<path d="M22,374.2 H80" stroke="#111" stroke-width="1.4"/>
<path d="M80,374.2 H104" stroke="#111" stroke-width="0.8"/>
<polyline points="46.35,373.80 46.84,373.67 47.34,373.50 47.84,373.26 48.33,372.94 48.83,372.52 49.32,371.98 49.81,371.28 50.31,370.39 50.80,369.29 51.30,367.94 51.80,366.30 52.29,364.34 52.79,362.04 53.28,359.37 53.77,356.34 54.27,352.93 54.77,349.17 55.26,345.10 55.76,340.77 56.25,336.26 56.75,331.65 57.24,327.05 57.73,322.58 58.23,318.36 58.73,314.53 59.22,311.19 59.72,308.47 60.21,306.46 60.70,305.22 61.20,304.80 61.70,305.22 62.19,306.46 62.69,308.47 63.18,311.19 63.67,314.53 64.17,318.36 64.66,322.58 65.16,327.05 65.66,331.65 66.15,336.26 66.64,340.77 67.14,345.10 67.64,349.17 68.13,352.93 68.62,356.34 69.12,359.37 69.61,362.04 70.11,364.34 70.60,366.30 71.10,367.94 71.59,369.29 72.09,370.39 72.58,371.28 73.08,371.98 73.58,372.52 74.07,372.94 74.56,373.26 75.06,373.50 75.55,373.67 76.05,373.80" fill="none" stroke="#bbb" stroke-width="1.1"/>
<polyline points="76.00,374.07 76.40,374.06 76.79,374.05 77.19,374.03 77.58,374.00 77.98,373.96 78.37,373.91 78.77,373.84 79.16,373.75 79.56,373.64 79.95,373.49 80.35,373.30 80.74,373.06 81.14,372.76 81.53,372.39 81.93,371.94 82.33,371.39 82.72,370.73 83.12,369.95 83.51,369.04 83.91,367.98 84.30,366.76 84.70,365.38 85.09,363.83 85.49,362.11 85.88,360.22 86.28,358.17 86.67,355.97 87.07,353.60 87.47,351.07 87.86,348.36 88.26,345.51 88.65,342.62 89.05,339.86 89.44,337.48 89.84,335.63 90.23,334.44 90.63,333.94 91.02,334.05 91.42,334.44 91.81,334.62 92.21,334.30 92.60,333.57 93.00,332.89 93.40,332.68 93.79,333.01 94.19,333.78 94.58,334.83 94.98,336.08 95.37,337.47 95.77,339.00 96.16,340.62 96.56,342.33 96.95,344.11 97.35,345.92 97.74,347.76 98.14,349.60 98.53,351.42 98.93,353.22 99.33,354.96 99.72,356.65 100.12,358.27 100.51,359.81 100.91,361.26 101.30,362.62 101.70,363.89 102.09,365.07 102.49,366.15 102.88,367.13 103.28,368.03 103.67,368.83 104.07,369.55 104.47,370.19 104.86,370.76 105.26,371.26 105.65,371.70 106.05,372.08 106.44,372.41 106.84,372.69 107.23,372.93 107.63,373.13 108.02,373.31 108.42,373.45 108.81,373.57 109.21,373.67 109.60,373.76 110.00,373.82" fill="none" stroke="#6a6a6a" stroke-width="1.1"/>
<polyline points="56.97,373.79 57.46,373.64 57.95,373.44 58.45,373.15 58.94,372.76 59.43,372.23 59.92,371.54 60.41,370.63 60.91,369.47 61.40,368.01 61.89,366.21 62.38,364.03 62.88,361.41 63.37,358.36 63.86,354.84 64.35,350.87 64.84,346.49 65.34,341.76 65.83,336.75 66.32,331.58 66.81,326.39 67.30,321.33 67.80,316.57 68.29,312.28 68.78,308.62 69.27,305.73 69.76,303.74 70.26,302.73 70.75,302.71 71.24,303.61 71.73,305.35 72.23,307.89 72.72,311.13 73.21,314.95 73.70,319.23 74.19,323.83 74.69,328.62 75.18,333.47 75.67,338.25 76.16,342.86 76.65,347.22 77.15,351.25 77.64,354.92 78.13,358.21 78.62,361.09 79.11,363.58 79.61,365.70 80.10,367.48 80.59,368.95 81.08,370.14 81.58,371.09 82.07,371.84 82.56,372.43 83.05,372.88 83.54,373.22 84.04,373.47 84.53,373.66 85.02,373.79" fill="none" stroke="#111" stroke-width="1.1"/>
<polyline points="69.57,373.86 70.06,373.69 70.56,373.43 71.05,373.04 71.55,372.46 72.04,371.62 72.54,370.45 73.03,368.86 73.53,366.77 74.02,364.10 74.52,360.81 75.01,356.87 75.51,352.34 76.00,347.30 76.50,341.93 76.99,336.45 77.49,331.15 77.98,326.33 78.48,322.31 78.97,319.37 79.47,317.72 79.96,317.51 80.46,319.20 80.95,322.73 81.45,327.74 81.94,333.76 82.44,340.24 82.94,346.69 83.43,352.71 83.92,357.99 84.42,362.41 84.91,365.91 85.41,368.57 85.91,370.50 86.40,371.84 86.89,372.73 87.39,373.30 87.88,373.65 88.38,373.86" fill="none" stroke="#000" stroke-width="1.85" stroke-linejoin="round"/>
<polyline points="74.04,372.93 74.54,372.50 75.04,371.93 75.54,371.19 76.03,370.23 76.53,369.03 77.03,367.52 77.53,365.67 78.03,363.43 78.53,360.75 79.03,357.60 79.52,353.97 80.02,349.87 80.52,345.33 81.02,340.42 81.52,335.24 82.02,329.95 82.51,324.74 83.01,319.87 83.51,315.62 84.01,312.36 84.51,310.58 85.01,311.21 85.51,313.23 86.00,316.12 86.50,319.63 87.00,323.58 87.50,327.79 88.00,332.12 88.50,336.45 89.00,340.68 89.49,344.72 89.99,348.52 90.49,352.04 90.99,355.24 91.49,358.12 91.99,360.67 92.48,362.91 92.98,364.86 93.48,366.52 93.98,367.94 94.48,369.13 94.98,370.12 95.48,370.94 95.97,371.61 96.47,372.15 96.97,372.59 97.47,372.93" fill="none" stroke="#000" stroke-width="1.85" stroke-linejoin="round"/>
<path d="M161.4,284.1 H267.6 V375.0" fill="none" stroke="#333" stroke-width="1.1"/>
<path d="M161.4,283.6 V375.0" fill="none" stroke="#111" stroke-width="1"/>
<path d="M158.00,375.00 H161.4" stroke="#222" stroke-width="0.8"/>
<path d="M158.80,371.97 H161.4" stroke="#222" stroke-width="0.8"/>
<path d="M158.80,368.94 H161.4" stroke="#222" stroke-width="0.8"/>
<path d="M158.80,365.91 H161.4" stroke="#222" stroke-width="0.8"/>
<path d="M158.80,362.88 H161.4" stroke="#222" stroke-width="0.8"/>
<path d="M158.00,359.85 H161.4" stroke="#222" stroke-width="0.8"/>
<path d="M158.80,356.82 H161.4" stroke="#222" stroke-width="0.8"/>
<path d="M158.80,353.79 H161.4" stroke="#222" stroke-width="0.8"/>
<path d="M158.80,350.76 H161.4" stroke="#222" stroke-width="0.8"/>
<path d="M158.80,347.73 H161.4" stroke="#222" stroke-width="0.8"/>
<path d="M158.00,344.70 H161.4" stroke="#222" stroke-width="0.8"/>
<path d="M158.80,341.67 H161.4" stroke="#222" stroke-width="0.8"/>
<path d="M158.80,338.64 H161.4" stroke="#222" stroke-width="0.8"/>
<path d="M158.80,335.61 H161.4" stroke="#222" stroke-width="0.8"/>
<path d="M158.80,332.58 H161.4" stroke="#222" stroke-width="0.8"/>
<path d="M158.00,329.55 H161.4" stroke="#222" stroke-width="0.8"/>
<path d="M158.80,326.52 H161.4" stroke="#222" stroke-width="0.8"/>
<path d="M158.80,323.49 H161.4" stroke="#222" stroke-width="0.8"/>
<path d="M158.80,320.46 H161.4" stroke="#222" stroke-width="0.8"/>
<path d="M158.80,317.43 H161.4" stroke="#222" stroke-width="0.8"/>
<path d="M158.00,314.40 H161.4" stroke="#222" stroke-width="0.8"/>
<path d="M158.80,311.37 H161.4" stroke="#222" stroke-width="0.8"/>
<path d="M158.80,308.34 H161.4" stroke="#222" stroke-width="0.8"/>
<path d="M158.80,305.31 H161.4" stroke="#222" stroke-width="0.8"/>
<path d="M158.80,302.28 H161.4" stroke="#222" stroke-width="0.8"/>
<path d="M158.00,299.25 H161.4" stroke="#222" stroke-width="0.8"/>
<path d="M158.80,296.22 H161.4" stroke="#222" stroke-width="0.8"/>
<path d="M158.80,293.19 H161.4" stroke="#222" stroke-width="0.8"/>
<path d="M158.80,290.16 H161.4" stroke="#222" stroke-width="0.8"/>
<path d="M158.80,287.13 H161.4" stroke="#222" stroke-width="0.8"/>
<path d="M158.00,284.10 H161.4" stroke="#222" stroke-width="0.8"/>
<path d="M161.4,375.0 H267.6" stroke="#bbb" stroke-width="0.7"/>
<path d="M169.39,375.90 v1.4" stroke="#333" stroke-width="0.8"/>
<path d="M174.07,375.90 v1.4" stroke="#333" stroke-width="0.8"/>
<path d="M177.38,375.90 v1.4" stroke="#333" stroke-width="0.8"/>
<path d="M179.96,375.90 v1.4" stroke="#333" stroke-width="0.8"/>
<path d="M182.06,375.90 v1.4" stroke="#333" stroke-width="0.8"/>
<path d="M183.84,375.90 v1.4" stroke="#333" stroke-width="0.8"/>
<path d="M185.38,375.90 v1.4" stroke="#333" stroke-width="0.8"/>
<path d="M186.74,375.90 v1.4" stroke="#333" stroke-width="0.8"/>
<path d="M195.94,375.90 v1.4" stroke="#333" stroke-width="0.8"/>
<path d="M200.62,375.90 v1.4" stroke="#333" stroke-width="0.8"/>
<path d="M203.93,375.90 v1.4" stroke="#333" stroke-width="0.8"/>
<path d="M206.51,375.90 v1.4" stroke="#333" stroke-width="0.8"/>
<path d="M208.61,375.90 v1.4" stroke="#333" stroke-width="0.8"/>
<path d="M210.39,375.90 v1.4" stroke="#333" stroke-width="0.8"/>
<path d="M211.93,375.90 v1.4" stroke="#333" stroke-width="0.8"/>
<path d="M213.29,375.90 v1.4" stroke="#333" stroke-width="0.8"/>
<path d="M222.49,375.90 v1.4" stroke="#333" stroke-width="0.8"/>
<path d="M227.17,375.90 v1.4" stroke="#333" stroke-width="0.8"/>
<path d="M230.48,375.90 v1.4" stroke="#333" stroke-width="0.8"/>
<path d="M233.06,375.90 v1.4" stroke="#333" stroke-width="0.8"/>
<path d="M235.16,375.90 v1.4" stroke="#333" stroke-width="0.8"/>
<path d="M236.94,375.90 v1.4" stroke="#333" stroke-width="0.8"/>
<path d="M238.48,375.90 v1.4" stroke="#333" stroke-width="0.8"/>
<path d="M239.84,375.90 v1.4" stroke="#333" stroke-width="0.8"/>
<path d="M249.04,375.90 v1.4" stroke="#333" stroke-width="0.8"/>
<path d="M253.72,375.90 v1.4" stroke="#333" stroke-width="0.8"/>
<path d="M257.03,375.90 v1.4" stroke="#333" stroke-width="0.8"/>
<path d="M259.61,375.90 v1.4" stroke="#333" stroke-width="0.8"/>
<path d="M261.71,375.90 v1.4" stroke="#333" stroke-width="0.8"/>
<path d="M263.49,375.90 v1.4" stroke="#333" stroke-width="0.8"/>
<path d="M265.03,375.90 v1.4" stroke="#333" stroke-width="0.8"/>
<path d="M266.39,375.90 v1.4" stroke="#333" stroke-width="0.8"/>
<path d="M161.40,375.0 v3.6" stroke="#222" stroke-width="0.9"/>
<path d="M187.95,375.0 v3.6" stroke="#222" stroke-width="0.9"/>
<path d="M214.50,375.0 v3.6" stroke="#222" stroke-width="0.9"/>
<path d="M241.05,375.0 v3.6" stroke="#222" stroke-width="0.9"/>
<path d="M267.60,375.0 v3.6" stroke="#222" stroke-width="0.9"/>
<text transform="translate(155.90,374.30) rotate(-90)" text-anchor="middle" font-size="6.3" fill="#000" stroke="#000" stroke-width="0.3">0</text>
<text transform="translate(155.90,359.15) rotate(-90)" text-anchor="middle" font-size="6.3" fill="#000" stroke="#000" stroke-width="0.3">20</text>
<text transform="translate(155.90,344.00) rotate(-90)" text-anchor="middle" font-size="6.3" fill="#000" stroke="#000" stroke-width="0.3">40</text>
<text transform="translate(155.90,328.85) rotate(-90)" text-anchor="middle" font-size="6.3" fill="#000" stroke="#000" stroke-width="0.3">60</text>
<text transform="translate(155.90,313.70) rotate(-90)" text-anchor="middle" font-size="6.3" fill="#000" stroke="#000" stroke-width="0.3">80</text>
<text transform="translate(155.90,298.55) rotate(-90)" text-anchor="middle" font-size="6.3" fill="#000" stroke="#000" stroke-width="0.3">100</text>
<text transform="translate(155.90,283.40) rotate(-90)" text-anchor="middle" font-size="6.3" fill="#000" stroke="#000" stroke-width="0.3">120</text>
<text transform="translate(148.70,329.55) rotate(-90)" text-anchor="middle" font-size="6.6" fill="#000" stroke="#000" stroke-width="0.25">Counts</text>
<text transform="translate(156.80,386.20) scale(0.82,1)" font-size="6.4" fill="#000" stroke="#000" stroke-width="0.12">10</text>
<text transform="translate(162.60,383.50) scale(0.85,1)" font-size="6.4" fill="#000" stroke="#000" stroke-width="0.08">0</text>
<text transform="translate(183.35,386.20) scale(0.82,1)" font-size="6.4" fill="#000" stroke="#000" stroke-width="0.12">10</text>
<text transform="translate(189.15,383.50) scale(0.85,1)" font-size="6.4" fill="#000" stroke="#000" stroke-width="0.08">1</text>
<text transform="translate(209.90,386.20) scale(0.82,1)" font-size="6.4" fill="#000" stroke="#000" stroke-width="0.12">10</text>
<text transform="translate(215.70,383.50) scale(0.85,1)" font-size="6.4" fill="#000" stroke="#000" stroke-width="0.08">2</text>
<text transform="translate(236.45,386.20) scale(0.82,1)" font-size="6.4" fill="#000" stroke="#000" stroke-width="0.12">10</text>
<text transform="translate(242.25,383.50) scale(0.85,1)" font-size="6.4" fill="#000" stroke="#000" stroke-width="0.08">3</text>
<text transform="translate(263.00,386.20) scale(0.82,1)" font-size="6.4" fill="#000" stroke="#000" stroke-width="0.12">10</text>
<text transform="translate(268.80,383.50) scale(0.85,1)" font-size="6.4" fill="#000" stroke="#000" stroke-width="0.08">4</text>
<text transform="translate(213.70,392.50) scale(0.97,1)" text-anchor="middle" font-size="6.4" fill="#000" stroke="#000" stroke-width="0.3">eGFP</text>
<text transform="translate(166.00,297.30) scale(0.88,1)" font-size="12.8" font-weight="bold" fill="#000" stroke="#000" stroke-width="0.5">F</text>
<path d="M162.2,353.7 V374.5" stroke="#000" stroke-width="1.8"/>
<path d="M163,374.2 H196" stroke="#111" stroke-width="1.5"/>
<path d="M196,374.2 H267" stroke="#111" stroke-width="1.6"/>
<polyline points="228.40,373.83 228.90,373.64 229.40,373.33 229.90,372.86 230.39,372.15 230.89,371.12 231.39,369.67 231.89,367.69 232.39,365.08 232.89,361.76 233.39,357.68 233.89,352.83 234.38,347.31 234.88,341.28 235.38,334.98 235.88,328.74 236.38,322.94 236.88,317.98 237.38,314.21 237.87,311.93 238.37,311.31 238.87,312.01 239.37,313.74 239.87,316.43 240.37,319.94 240.87,324.11 241.37,328.74 241.86,333.65 242.36,338.64 242.86,343.55 243.36,348.22 243.86,352.56 244.36,356.47 244.86,359.92 245.35,362.89 245.85,365.39 246.35,367.45 246.85,369.11 247.35,370.41 247.85,371.43 248.35,372.19 248.85,372.76 249.34,373.18 249.84,373.48 250.34,373.69 250.84,373.83" fill="none" stroke="#bbb" stroke-width="1.1"/>
<polyline points="239.31,373.78 239.80,373.59 240.29,373.29 240.78,372.85 241.28,372.21 241.77,371.30 242.26,370.05 242.75,368.37 243.24,366.16 243.73,363.35 244.22,359.87 244.72,355.67 245.21,350.76 245.70,345.18 246.19,339.06 246.68,332.57 247.17,325.96 247.67,319.52 248.16,313.59 248.65,308.47 249.14,304.49 249.63,301.88 250.12,300.82 250.61,301.26 251.11,302.96 251.60,305.84 252.09,309.75 252.58,314.50 253.07,319.86 253.56,325.61 254.05,331.50 254.55,337.33 255.04,342.92 255.53,348.12 256.02,352.83 256.51,357.00 257.00,360.58 257.50,363.61 257.99,366.09 258.48,368.10 258.97,369.68 259.46,370.90 259.95,371.83 260.44,372.51 260.94,373.01 261.43,373.37 261.92,373.61 262.41,373.78" fill="none" stroke="#6a6a6a" stroke-width="1.1"/>
<polyline points="217.56,373.72 218.06,373.42 218.56,372.93 219.06,372.16 219.56,370.97 220.06,369.21 220.56,366.70 221.06,363.26 221.56,358.71 222.06,352.95 222.55,345.94 223.05,337.77 223.55,328.71 224.05,319.16 224.55,309.69 225.05,300.94 225.55,293.61 226.05,288.33 226.55,285.55 227.05,285.55 227.55,288.33 228.05,293.61 228.55,300.94 229.05,309.69 229.55,319.16 230.05,328.71 230.55,337.77 231.05,345.94 231.54,352.95 232.04,358.71 232.54,363.26 233.04,366.70 233.54,369.21 234.04,370.97 234.54,372.16 235.04,372.93 235.54,373.42 236.04,373.72" fill="none" stroke="#6a6a6a" stroke-width="1.1"/>
<polyline points="199.64,373.89 200.14,373.82 200.63,373.72 201.12,373.59 201.62,373.42 202.12,373.20 202.61,372.93 203.11,372.59 203.60,372.17 204.10,371.66 204.59,371.03 205.09,370.28 205.58,369.39 206.08,368.34 206.57,367.13 207.06,365.73 207.56,364.14 208.06,362.36 208.55,360.38 209.05,358.22 209.54,355.88 210.04,353.38 210.53,350.75 211.03,348.03 211.52,345.26 212.02,342.47 212.51,339.73 213.00,337.09 213.50,334.61 214.00,332.34 214.49,330.34 214.99,328.65 215.48,327.33 215.98,326.40 216.47,325.90 216.97,325.83 217.46,326.27 217.96,327.24 218.45,328.69 218.94,330.58 219.44,332.85 219.94,335.43 220.43,338.26 220.93,341.24 221.42,344.31 221.92,347.38 222.41,350.41 222.91,353.32 223.40,356.08 223.90,358.64 224.39,360.99 224.88,363.10 225.38,364.97 225.88,366.61 226.37,368.02 226.87,369.22 227.36,370.23 227.86,371.06 228.35,371.74 228.84,372.29 229.34,372.73 229.84,373.07 230.33,373.33 230.82,373.54 231.32,373.69 231.81,373.81 232.31,373.89" fill="none" stroke="#000" stroke-width="1.85" stroke-linejoin="round"/>
<polyline points="216.74,372.64 217.24,372.11 217.73,371.40 218.23,370.49 218.72,369.32 219.22,367.84 219.71,365.99 220.21,363.72 220.70,360.96 221.20,357.68 221.69,353.82 222.19,349.38 222.68,344.35 223.18,338.77 223.67,332.73 224.17,326.34 224.66,319.80 225.16,313.32 225.65,307.22 226.15,301.83 226.64,297.59 227.14,295.07 227.63,295.27 228.12,297.01 228.62,299.63 229.12,302.92 229.61,306.72 230.11,310.87 230.60,315.27 231.10,319.80 231.59,324.36 232.09,328.87 232.58,333.27 233.08,337.49 233.57,341.50 234.07,345.26 234.56,348.76 235.06,351.96 235.55,354.89 236.05,357.52 236.54,359.88 237.04,361.98 237.53,363.82 238.03,365.44 238.52,366.84 239.02,368.05 239.51,369.08 240.01,369.96 240.50,370.71 241.00,371.33 241.49,371.85 241.99,372.29 242.48,372.64" fill="none" stroke="#000" stroke-width="1.85" stroke-linejoin="round"/>
<path d="M347.5,102.62 H513.5" stroke="#555" stroke-width="1.3" stroke-dasharray="1.5,2.864" stroke-dashoffset="0.114"/>
<path d="M347.5,83.64 H513.5" stroke="#555" stroke-width="1.3" stroke-dasharray="1.5,2.864" stroke-dashoffset="0.114"/>
<path d="M347.5,64.66 H513.5" stroke="#555" stroke-width="1.3" stroke-dasharray="1.5,2.864" stroke-dashoffset="0.114"/>
<path d="M347.5,45.68 H513.5" stroke="#555" stroke-width="1.3" stroke-dasharray="1.5,2.864" stroke-dashoffset="0.114"/>
<path d="M347.5,26.4 H513.5 V121.3" fill="none" stroke="#333" stroke-width="0.9"/>
<path d="M347.5,26.4 V121.3 H513.5" fill="none" stroke="#111" stroke-width="1"/>
<path d="M344.90,121.50 H349.10" stroke="#111" stroke-width="1"/>
<text x="340.2" y="123.80" text-anchor="end" font-size="7" font-weight="bold" fill="#000" stroke="#000" stroke-width="0.2">0</text>
<path d="M344.90,102.52 H349.10" stroke="#111" stroke-width="1"/>
<text x="340.2" y="104.82" text-anchor="end" font-size="7" font-weight="bold" fill="#000" stroke="#000" stroke-width="0.2">200</text>
<path d="M344.90,83.54 H349.10" stroke="#111" stroke-width="1"/>
<text x="340.2" y="85.84" text-anchor="end" font-size="7" font-weight="bold" fill="#000" stroke="#000" stroke-width="0.2">400</text>
<path d="M344.90,64.56 H349.10" stroke="#111" stroke-width="1"/>
<text x="340.2" y="66.86" text-anchor="end" font-size="7" font-weight="bold" fill="#000" stroke="#000" stroke-width="0.2">600</text>
<path d="M344.90,45.58 H349.10" stroke="#111" stroke-width="1"/>
<text x="340.2" y="47.88" text-anchor="end" font-size="7" font-weight="bold" fill="#000" stroke="#000" stroke-width="0.2">800</text>
<path d="M344.90,26.60 H349.10" stroke="#111" stroke-width="1"/>
<text x="340.2" y="28.90" text-anchor="end" font-size="7" font-weight="bold" fill="#000" stroke="#000" stroke-width="0.2">1000</text>
<path d="M347.90,121.3 v3" stroke="#111" stroke-width="0.9"/>
<text x="347.90" y="134.6" text-anchor="middle" font-size="7" font-weight="bold" fill="#000" stroke="#000" stroke-width="0.2">0</text>
<path d="M389.40,121.3 v3" stroke="#111" stroke-width="0.9"/>
<text x="389.40" y="134.6" text-anchor="middle" font-size="7" font-weight="bold" fill="#000" stroke="#000" stroke-width="0.2">5</text>
<path d="M430.90,121.3 v3" stroke="#111" stroke-width="0.9"/>
<text x="430.90" y="134.6" text-anchor="middle" font-size="7" font-weight="bold" fill="#000" stroke="#000" stroke-width="0.2">10</text>
<path d="M472.40,121.3 v3" stroke="#111" stroke-width="0.9"/>
<text x="472.40" y="134.6" text-anchor="middle" font-size="7" font-weight="bold" fill="#000" stroke="#000" stroke-width="0.2">15</text>
<path d="M513.90,121.3 v3" stroke="#111" stroke-width="0.9"/>
<text x="513.90" y="134.6" text-anchor="middle" font-size="7" font-weight="bold" fill="#000" stroke="#000" stroke-width="0.2">20</text>
<text transform="translate(310.6,71.6) rotate(-90)" text-anchor="middle" font-size="7.8" fill="#111" stroke="#111" stroke-width="0.24">Green fluorescence</text>
<text transform="translate(318.9,71.3) rotate(-90)" text-anchor="middle" font-size="7.5" fill="#111" stroke="#111" stroke-width="0.24">(arbitrary units)</text>
<text x="429.7" y="144.5" text-anchor="middle" font-size="7.9" fill="#111" stroke="#111" stroke-width="0.24">Vector copy number</text>
<path d="M356.20,117.46 L358.90,120.16 L356.20,122.86 L353.50,120.16 Z" fill="#000"/>
<path d="M356.20,116.51 L358.90,119.21 L356.20,121.91 L353.50,119.21 Z" fill="#000"/>
<path d="M356.20,115.56 L358.90,118.26 L356.20,120.96 L353.50,118.26 Z" fill="#000"/>
<path d="M356.20,114.33 L358.90,117.03 L356.20,119.73 L353.50,117.03 Z" fill="#000"/>
<path d="M364.50,117.18 L367.20,119.88 L364.50,122.58 L361.80,119.88 Z" fill="#000"/>
<path d="M364.50,115.75 L367.20,118.45 L364.50,121.15 L361.80,118.45 Z" fill="#000"/>
<path d="M364.50,114.33 L367.20,117.03 L364.50,119.73 L361.80,117.03 Z" fill="#000"/>
<path d="M364.50,112.91 L367.20,115.61 L364.50,118.31 L361.80,115.61 Z" fill="#000"/>
<path d="M372.80,110.53 L375.50,113.23 L372.80,115.93 L370.10,113.23 Z" fill="#000"/>
<path d="M381.10,107.40 L383.80,110.10 L381.10,112.80 L378.40,110.10 Z" fill="#000"/>
<path d="M389.40,101.90 L392.10,104.60 L389.40,107.30 L386.70,104.60 Z" fill="#000"/>
<path d="M397.70,100.66 L400.40,103.36 L397.70,106.06 L395.00,103.36 Z" fill="#000"/>
<path d="M397.70,110.72 L400.40,113.42 L397.70,116.12 L395.00,113.42 Z" fill="#000"/>
<path d="M406.00,101.90 L408.70,104.60 L406.00,107.30 L403.30,104.60 Z" fill="#000"/>
<path d="M414.30,95.82 L417.00,98.52 L414.30,101.22 L411.60,98.52 Z" fill="#000"/>
<path d="M422.60,89.94 L425.30,92.64 L422.60,95.34 L419.90,92.64 Z" fill="#000"/>
<path d="M439.20,90.60 L441.90,93.30 L439.20,96.00 L436.50,93.30 Z" fill="#000"/>
<path d="M455.80,87.09 L458.50,89.79 L455.80,92.49 L453.10,89.79 Z" fill="#000"/>
<path d="M464.10,84.25 L466.80,86.95 L464.10,89.65 L461.40,86.95 Z" fill="#000"/>
<path d="M472.40,56.82 L475.10,59.52 L472.40,62.22 L469.70,59.52 Z" fill="#000"/>
<path d="M480.70,75.99 L483.40,78.69 L480.70,81.39 L478.00,78.69 Z" fill="#000"/>
<path d="M505.60,37.18 L508.30,39.88 L505.60,42.58 L502.90,39.88 Z" fill="#000"/>
<path d="M339.5,184.4 H516.8 V286.3" fill="none" stroke="#333" stroke-width="1"/>
<path d="M339.5,184.4 V286.3 H516.8" fill="none" stroke="#333" stroke-width="1"/>
<path d="M337.5,286.30 H339.5" stroke="#111" stroke-width="0.9"/>
<text x="337.2" y="290.00" text-anchor="end" font-size="7.3" font-weight="bold" fill="#000" stroke="#000" stroke-width="0.2">0</text>
<path d="M337.5,269.32 H339.5" stroke="#111" stroke-width="0.9"/>
<text x="337.9" y="271.82" text-anchor="end" font-size="7.3" font-weight="bold" fill="#000" stroke="#000" stroke-width="0.2">10</text>
<path d="M337.5,252.33 H339.5" stroke="#111" stroke-width="0.9"/>
<text x="337.9" y="254.83" text-anchor="end" font-size="7.3" font-weight="bold" fill="#000" stroke="#000" stroke-width="0.2">20</text>
<path d="M337.5,235.35 H339.5" stroke="#111" stroke-width="0.9"/>
<text x="337.9" y="237.85" text-anchor="end" font-size="7.3" font-weight="bold" fill="#000" stroke="#000" stroke-width="0.2">30</text>
<path d="M337.5,218.37 H339.5" stroke="#111" stroke-width="0.9"/>
<text x="337.9" y="220.87" text-anchor="end" font-size="7.3" font-weight="bold" fill="#000" stroke="#000" stroke-width="0.2">40</text>
<path d="M337.5,201.38 H339.5" stroke="#111" stroke-width="0.9"/>
<text x="337.9" y="203.88" text-anchor="end" font-size="7.3" font-weight="bold" fill="#000" stroke="#000" stroke-width="0.2">50</text>
<path d="M337.5,184.40 H339.5" stroke="#111" stroke-width="0.9"/>
<text x="337.9" y="186.90" text-anchor="end" font-size="7.3" font-weight="bold" fill="#000" stroke="#000" stroke-width="0.2">60</text>
<path d="M339.50,286.3 v2" stroke="#111" stroke-width="0.9"/>
<text x="340.00" y="298.6" text-anchor="middle" font-size="7" font-weight="bold" fill="#000" stroke="#000" stroke-width="0.2">0</text>
<path d="M399.00,286.3 v2" stroke="#111" stroke-width="0.9"/>
<text x="399.50" y="298.6" text-anchor="middle" font-size="7" font-weight="bold" fill="#000" stroke="#000" stroke-width="0.2">1</text>
<path d="M458.50,286.3 v2" stroke="#111" stroke-width="0.9"/>
<text x="459.00" y="298.6" text-anchor="middle" font-size="7" font-weight="bold" fill="#000" stroke="#000" stroke-width="0.2">2</text>
<text transform="translate(310,235) rotate(-90)" text-anchor="middle" font-size="7.9" fill="#111" stroke="#111" stroke-width="0.24">Green fluorescence</text>
<text transform="translate(319.3,235) rotate(-90)" text-anchor="middle" font-size="7.9" fill="#111" stroke="#111" stroke-width="0.24">(arbitrary units)</text>
<text x="430.5" y="311" text-anchor="middle" font-size="7.9" fill="#111" stroke="#111" stroke-width="0.24">Vector copy number</text>
<path d="M398.60,208.20 L401.80,211.40 L398.60,214.60 L395.40,211.40 Z" fill="#000"/>
<path d="M398.60,213.47 L401.80,216.67 L398.60,219.87 L395.40,216.67 Z" fill="#000"/>
<path d="M398.60,223.15 L401.80,226.35 L398.60,229.55 L395.40,226.35 Z" fill="#000"/>
<path d="M398.60,227.22 L401.80,230.42 L398.60,233.62 L395.40,230.42 Z" fill="#000"/>
<path d="M398.60,238.60 L401.80,241.80 L398.60,245.00 L395.40,241.80 Z" fill="#000"/>
<path d="M398.60,242.85 L401.80,246.05 L398.60,249.25 L395.40,246.05 Z" fill="#000"/>
<path d="M398.60,246.08 L401.80,249.28 L398.60,252.48 L395.40,249.28 Z" fill="#000"/>
<path d="M398.60,255.93 L401.80,259.13 L398.60,262.33 L395.40,259.13 Z" fill="#000"/>
<path d="M398.60,260.00 L401.80,263.20 L398.60,266.40 L395.40,263.20 Z" fill="#000"/>
<path d="M458.30,185.79 L461.50,188.99 L458.30,192.19 L455.10,188.99 Z" fill="#000"/>
<path d="M458.30,198.01 L461.50,201.21 L458.30,204.41 L455.10,201.21 Z" fill="#000"/>
<path d="M458.30,206.17 L461.50,209.37 L458.30,212.57 L455.10,209.37 Z" fill="#000"/>
<path d="M458.30,217.03 L461.50,220.23 L458.30,223.43 L455.10,220.23 Z" fill="#000"/>
<path d="M458.30,244.21 L461.50,247.41 L458.30,250.61 L455.10,247.41 Z" fill="#000"/>
<rect x="392.9" y="239.42" width="13" height="2.2" fill="#888"/>
<rect x="452.2" y="213.05" width="12.8" height="2.2" fill="#888"/>
<text x="410.4" y="243.72" font-size="6.6" font-weight="bold" fill="#000" stroke="#000" stroke-width="0.2">27.9</text>
<text x="471.2" y="216.35" font-size="6.6" font-weight="bold" fill="#000" stroke="#000" stroke-width="0.2">42.6</text>
</svg>
</body></html>
